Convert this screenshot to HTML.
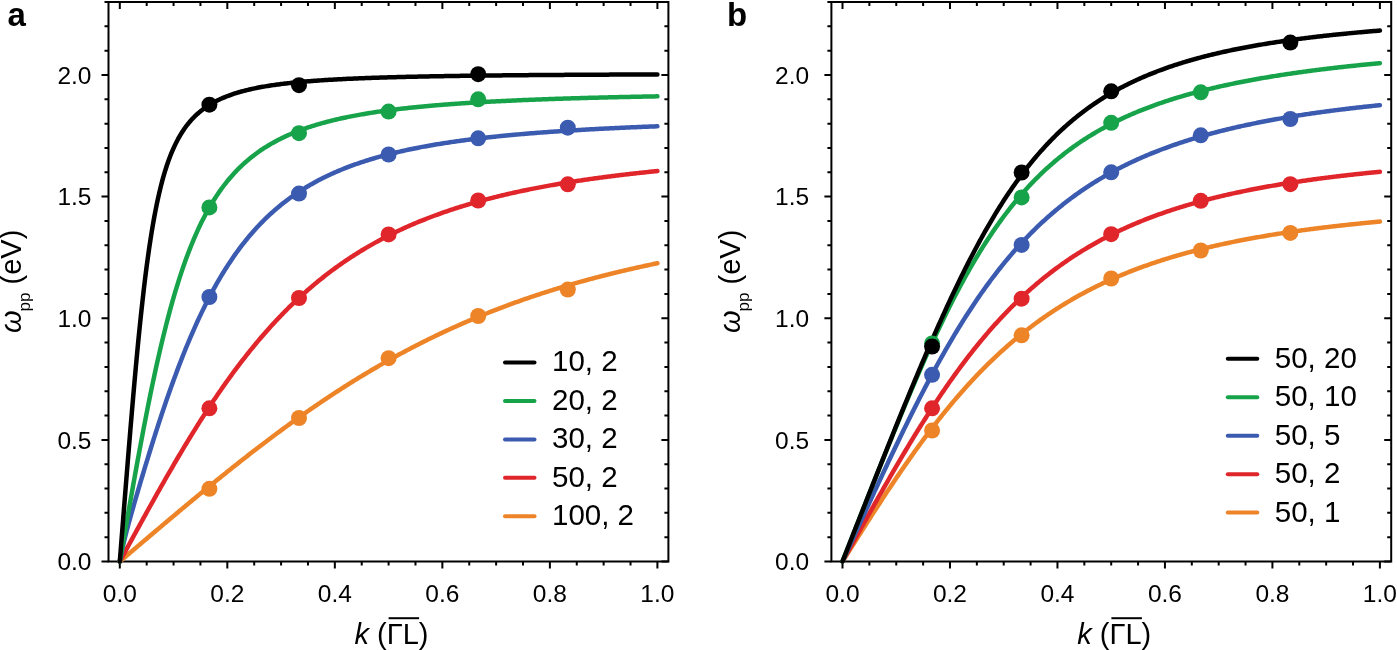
<!DOCTYPE html><html><head><meta charset="utf-8"><style>html,body{margin:0;padding:0;background:#fff;}svg{display:block}</style></head><body>
<svg width="1397" height="650" viewBox="0 0 1397 650" style="will-change:transform">
<rect width="1397" height="650" fill="#fff"/>
<path d="M119.8 561.5v7 M119.8 2v7 M146.68 561.5v4 M146.68 2v4 M173.56 561.5v4 M173.56 2v4 M200.44 561.5v4 M200.44 2v4 M227.32 561.5v7 M227.32 2v7 M254.2 561.5v4 M254.2 2v4 M281.08 561.5v4 M281.08 2v4 M307.96 561.5v4 M307.96 2v4 M334.84 561.5v7 M334.84 2v7 M361.72 561.5v4 M361.72 2v4 M388.6 561.5v4 M388.6 2v4 M415.48 561.5v4 M415.48 2v4 M442.36 561.5v7 M442.36 2v7 M469.24 561.5v4 M469.24 2v4 M496.12 561.5v4 M496.12 2v4 M523 561.5v4 M523 2v4 M549.88 561.5v7 M549.88 2v7 M576.76 561.5v4 M576.76 2v4 M603.64 561.5v4 M603.64 2v4 M630.52 561.5v4 M630.52 2v4 M657.4 561.5v7 M657.4 2v7 M108.5 561.5h-7 M668.4 561.5h-7 M108.5 537.17h-4 M668.4 537.17h-4 M108.5 512.85h-4 M668.4 512.85h-4 M108.5 488.52h-4 M668.4 488.52h-4 M108.5 464.2h-4 M668.4 464.2h-4 M108.5 439.88h-7 M668.4 439.88h-7 M108.5 415.55h-4 M668.4 415.55h-4 M108.5 391.23h-4 M668.4 391.23h-4 M108.5 366.9h-4 M668.4 366.9h-4 M108.5 342.57h-4 M668.4 342.57h-4 M108.5 318.25h-7 M668.4 318.25h-7 M108.5 293.92h-4 M668.4 293.92h-4 M108.5 269.6h-4 M668.4 269.6h-4 M108.5 245.27h-4 M668.4 245.27h-4 M108.5 220.95h-4 M668.4 220.95h-4 M108.5 196.62h-7 M668.4 196.62h-7 M108.5 172.3h-4 M668.4 172.3h-4 M108.5 147.97h-4 M668.4 147.97h-4 M108.5 123.65h-4 M668.4 123.65h-4 M108.5 99.32h-4 M668.4 99.32h-4 M108.5 75h-7 M668.4 75h-7 M108.5 50.67h-4 M668.4 50.67h-4 M108.5 26.35h-4 M668.4 26.35h-4 M108.5 2.02h-4 M668.4 2.02h-4" stroke="#000" stroke-width="2" fill="none"/>
<rect x="108.5" y="2" width="559.9" height="559.5" stroke="#000" stroke-width="2" fill="none"/>
<polyline points="119.8,561.5 120.07,561.27 120.34,561.04 120.61,560.81 120.88,560.59 121.14,560.36 121.41,560.13 121.68,559.9 121.95,559.67 122.22,559.44 122.49,559.21 122.76,558.99 123.03,558.76 123.29,558.53 123.56,558.3 123.83,558.07 124.1,557.84 124.37,557.61 124.64,557.39 124.91,557.16 125.18,556.93 125.44,556.7 125.71,556.47 125.98,556.24 126.25,556.02 126.52,555.79 126.79,555.56 127.06,555.33 127.33,555.1 127.6,554.87 127.86,554.64 128.13,554.42 128.4,554.19 128.67,553.96 128.94,553.73 129.21,553.5 129.48,553.27 129.75,553.04 130.01,552.82 130.28,552.59 130.55,552.36 131.87,551.24 133.19,550.11 134.51,548.99 135.83,547.87 137.15,546.75 138.47,545.63 139.79,544.51 141.12,543.39 142.44,542.27 143.76,541.15 145.08,540.03 146.4,538.91 147.72,537.79 149.04,536.67 150.36,535.55 151.68,534.43 153,533.31 154.32,532.2 155.64,531.08 156.96,529.96 158.28,528.85 159.6,527.73 160.92,526.62 162.24,525.5 163.56,524.39 164.88,523.28 166.2,522.16 167.52,521.05 168.84,519.94 170.16,518.83 171.49,517.72 172.81,516.61 174.13,515.5 175.45,514.4 176.77,513.29 178.09,512.18 179.41,511.08 180.73,509.97 182.05,508.87 183.37,507.77 184.69,506.67 186.01,505.57 187.33,504.47 188.65,503.37 189.97,502.27 191.29,501.18 192.61,500.08 193.93,498.99 195.25,497.9 196.57,496.81 197.89,495.71 199.21,494.63 200.53,493.54 201.85,492.45 203.18,491.37 204.5,490.28 205.82,489.2 207.14,488.12 208.46,487.04 209.78,485.96 211.1,484.88 212.42,483.8 213.74,482.73 215.06,481.66 216.38,480.59 217.7,479.52 219.02,478.45 220.34,477.38 221.66,476.32 222.98,475.25 224.3,474.19 225.62,473.13 226.94,472.07 228.26,471.01 229.58,469.96 230.9,468.9 232.22,467.85 233.54,466.8 234.87,465.75 236.19,464.71 237.51,463.66 238.83,462.62 240.15,461.58 241.47,460.54 242.79,459.5 244.11,458.47 245.43,457.44 246.75,456.4 248.07,455.38 249.39,454.35 250.71,453.32 252.03,452.3 253.35,451.28 254.67,450.26 255.99,449.24 257.31,448.23 258.63,447.22 259.95,446.21 261.27,445.2 262.59,444.19 263.91,443.19 265.23,442.19 266.56,441.19 267.88,440.19 269.2,439.2 270.52,438.21 271.84,437.22 273.16,436.23 274.48,435.24 275.8,434.26 277.12,433.28 278.44,432.3 279.76,431.33 281.08,430.35 282.4,429.38 283.72,428.41 285.04,427.45 286.36,426.48 287.68,425.52 289,424.57 290.32,423.61 291.64,422.66 292.96,421.71 294.28,420.76 295.6,419.81 296.93,418.87 298.25,417.93 299.57,416.99 300.89,416.06 302.21,415.13 303.53,414.2 304.85,413.27 306.17,412.35 307.49,411.42 308.81,410.51 310.13,409.59 311.45,408.68 312.77,407.77 314.09,406.86 315.41,405.95 316.73,405.05 318.05,404.15 319.37,403.25 320.69,402.36 322.01,401.47 323.33,400.58 324.65,399.7 325.97,398.81 327.29,397.93 328.62,397.06 329.94,396.18 331.26,395.31 332.58,394.45 333.9,393.58 335.22,392.72 336.54,391.86 337.86,391 339.18,390.15 340.5,389.3 341.82,388.45 343.14,387.61 344.46,386.76 345.78,385.92 347.1,385.09 348.42,384.26 349.74,383.43 351.06,382.6 352.38,381.77 353.7,380.95 355.02,380.14 356.34,379.32 357.66,378.51 358.98,377.7 360.31,376.89 361.63,376.09 362.95,375.29 364.27,374.49 365.59,373.7 366.91,372.91 368.23,372.12 369.55,371.33 370.87,370.55 372.19,369.77 373.51,369 374.83,368.22 376.15,367.45 377.47,366.69 378.79,365.92 380.11,365.16 381.43,364.4 382.75,363.65 384.07,362.89 385.39,362.15 386.71,361.4 388.03,360.66 389.35,359.92 390.67,359.18 392,358.45 393.32,357.71 394.64,356.99 395.96,356.26 397.28,355.54 398.6,354.82 399.92,354.1 401.24,353.39 402.56,352.68 403.88,351.97 405.2,351.27 406.52,350.57 407.84,349.87 409.16,349.18 410.48,348.48 411.8,347.8 413.12,347.11 414.44,346.43 415.76,345.75 417.08,345.07 418.4,344.39 419.72,343.72 421.04,343.05 422.37,342.39 423.69,341.73 425.01,341.07 426.33,340.41 427.65,339.76 428.97,339.1 430.29,338.46 431.61,337.81 432.93,337.17 434.25,336.53 435.57,335.89 436.89,335.26 438.21,334.63 439.53,334 440.85,333.38 442.17,332.75 443.49,332.13 444.81,331.52 446.13,330.9 447.45,330.29 448.77,329.69 450.09,329.08 451.41,328.48 452.73,327.88 454.06,327.28 455.38,326.69 456.7,326.1 458.02,325.51 459.34,324.92 460.66,324.34 461.98,323.76 463.3,323.18 464.62,322.61 465.94,322.04 467.26,321.47 468.58,320.9 469.9,320.34 471.22,319.78 472.54,319.22 473.86,318.66 475.18,318.11 476.5,317.56 477.82,317.01 479.14,316.46 480.46,315.92 481.78,315.38 483.1,314.85 484.42,314.31 485.75,313.78 487.07,313.25 488.39,312.72 489.71,312.2 491.03,311.68 492.35,311.16 493.67,310.64 494.99,310.13 496.31,309.61 497.63,309.11 498.95,308.6 500.27,308.09 501.59,307.59 502.91,307.09 504.23,306.6 505.55,306.1 506.87,305.61 508.19,305.12 509.51,304.64 510.83,304.15 512.15,303.67 513.47,303.19 514.79,302.71 516.11,302.24 517.44,301.77 518.76,301.3 520.08,300.83 521.4,300.36 522.72,299.9 524.04,299.44 525.36,298.98 526.68,298.52 528,298.07 529.32,297.62 530.64,297.17 531.96,296.72 533.28,296.28 534.6,295.84 535.92,295.4 537.24,294.96 538.56,294.52 539.88,294.09 541.2,293.66 542.52,293.23 543.84,292.8 545.16,292.38 546.48,291.95 547.81,291.53 549.13,291.12 550.45,290.7 551.77,290.29 553.09,289.87 554.41,289.46 555.73,289.06 557.05,288.65 558.37,288.25 559.69,287.85 561.01,287.45 562.33,287.05 563.65,286.65 564.97,286.26 566.29,285.87 567.61,285.48 568.93,285.09 570.25,284.71 571.57,284.33 572.89,283.94 574.21,283.57 575.53,283.19 576.85,282.81 578.17,282.44 579.5,282.07 580.82,281.7 582.14,281.33 583.46,280.97 584.78,280.6 586.1,280.24 587.42,279.88 588.74,279.52 590.06,279.16 591.38,278.81 592.7,278.46 594.02,278.11 595.34,277.76 596.66,277.41 597.98,277.06 599.3,276.72 600.62,276.38 601.94,276.04 603.26,275.7 604.58,275.36 605.9,275.03 607.22,274.7 608.54,274.37 609.86,274.04 611.19,273.71 612.51,273.38 613.83,273.06 615.15,272.73 616.47,272.41 617.79,272.09 619.11,271.78 620.43,271.46 621.75,271.14 623.07,270.83 624.39,270.52 625.71,270.21 627.03,269.9 628.35,269.6 629.67,269.29 630.99,268.99 632.31,268.69 633.63,268.39 634.95,268.09 636.27,267.79 637.59,267.49 638.91,267.2 640.23,266.91 641.55,266.62 642.88,266.33 644.2,266.04 645.52,265.75 646.84,265.47 648.16,265.18 649.48,264.9 650.8,264.62 652.12,264.34 653.44,264.06 654.76,263.79 656.08,263.51 657.4,263.24" fill="none" stroke="#ee8428" stroke-width="4.5" stroke-linecap="round" stroke-linejoin="round"/>
<polyline points="119.8,561.5 120.07,561.01 120.34,560.51 120.61,560.02 120.88,559.53 121.14,559.03 121.41,558.54 121.68,558.05 121.95,557.55 122.22,557.06 122.49,556.56 122.76,556.07 123.03,555.58 123.29,555.08 123.56,554.59 123.83,554.1 124.1,553.6 124.37,553.11 124.64,552.62 124.91,552.12 125.18,551.63 125.44,551.14 125.71,550.64 125.98,550.15 126.25,549.66 126.52,549.17 126.79,548.67 127.06,548.18 127.33,547.69 127.6,547.19 127.86,546.7 128.13,546.21 128.4,545.71 128.67,545.22 128.94,544.73 129.21,544.24 129.48,543.74 129.75,543.25 130.01,542.76 130.28,542.27 130.55,541.77 131.87,539.36 133.19,536.94 134.51,534.53 135.83,532.11 137.15,529.7 138.47,527.3 139.79,524.89 141.12,522.49 142.44,520.09 143.76,517.7 145.08,515.31 146.4,512.92 147.72,510.53 149.04,508.15 150.36,505.78 151.68,503.41 153,501.04 154.32,498.68 155.64,496.32 156.96,493.97 158.28,491.63 159.6,489.29 160.92,486.96 162.24,484.63 163.56,482.31 164.88,479.99 166.2,477.69 167.52,475.39 168.84,473.09 170.16,470.81 171.49,468.53 172.81,466.26 174.13,463.99 175.45,461.74 176.77,459.49 178.09,457.25 179.41,455.02 180.73,452.79 182.05,450.58 183.37,448.37 184.69,446.18 186.01,443.99 187.33,441.81 188.65,439.64 189.97,437.49 191.29,435.34 192.61,433.2 193.93,431.07 195.25,428.95 196.57,426.84 197.89,424.74 199.21,422.65 200.53,420.57 201.85,418.5 203.18,416.44 204.5,414.4 205.82,412.36 207.14,410.33 208.46,408.32 209.78,406.32 211.1,404.32 212.42,402.34 213.74,400.37 215.06,398.41 216.38,396.47 217.7,394.53 219.02,392.6 220.34,390.69 221.66,388.79 222.98,386.9 224.3,385.02 225.62,383.16 226.94,381.3 228.26,379.46 229.58,377.63 230.9,375.81 232.22,374 233.54,372.21 234.87,370.42 236.19,368.65 237.51,366.89 238.83,365.14 240.15,363.41 241.47,361.68 242.79,359.97 244.11,358.27 245.43,356.58 246.75,354.91 248.07,353.24 249.39,351.59 250.71,349.95 252.03,348.32 253.35,346.71 254.67,345.1 255.99,343.51 257.31,341.93 258.63,340.36 259.95,338.8 261.27,337.26 262.59,335.72 263.91,334.2 265.23,332.69 266.56,331.19 267.88,329.71 269.2,328.23 270.52,326.77 271.84,325.32 273.16,323.88 274.48,322.45 275.8,321.03 277.12,319.62 278.44,318.23 279.76,316.84 281.08,315.47 282.4,314.11 283.72,312.76 285.04,311.42 286.36,310.09 287.68,308.77 289,307.47 290.32,306.17 291.64,304.89 292.96,303.61 294.28,302.35 295.6,301.09 296.93,299.85 298.25,298.62 299.57,297.4 300.89,296.19 302.21,294.99 303.53,293.8 304.85,292.62 306.17,291.45 307.49,290.28 308.81,289.13 310.13,287.99 311.45,286.86 312.77,285.74 314.09,284.63 315.41,283.53 316.73,282.44 318.05,281.36 319.37,280.28 320.69,279.22 322.01,278.17 323.33,277.12 324.65,276.09 325.97,275.06 327.29,274.04 328.62,273.03 329.94,272.03 331.26,271.04 332.58,270.06 333.9,269.09 335.22,268.12 336.54,267.17 337.86,266.22 339.18,265.28 340.5,264.35 341.82,263.43 343.14,262.51 344.46,261.61 345.78,260.71 347.1,259.82 348.42,258.94 349.74,258.06 351.06,257.2 352.38,256.34 353.7,255.49 355.02,254.64 356.34,253.81 357.66,252.98 358.98,252.16 360.31,251.35 361.63,250.54 362.95,249.74 364.27,248.95 365.59,248.17 366.91,247.39 368.23,246.62 369.55,245.86 370.87,245.1 372.19,244.35 373.51,243.61 374.83,242.87 376.15,242.14 377.47,241.42 378.79,240.7 380.11,239.99 381.43,239.29 382.75,238.59 384.07,237.9 385.39,237.21 386.71,236.54 388.03,235.86 389.35,235.2 390.67,234.54 392,233.88 393.32,233.23 394.64,232.59 395.96,231.95 397.28,231.32 398.6,230.7 399.92,230.08 401.24,229.46 402.56,228.85 403.88,228.25 405.2,227.65 406.52,227.06 407.84,226.47 409.16,225.89 410.48,225.31 411.8,224.74 413.12,224.17 414.44,223.61 415.76,223.05 417.08,222.5 418.4,221.95 419.72,221.41 421.04,220.87 422.37,220.34 423.69,219.81 425.01,219.29 426.33,218.77 427.65,218.25 428.97,217.74 430.29,217.24 431.61,216.74 432.93,216.24 434.25,215.75 435.57,215.26 436.89,214.78 438.21,214.3 439.53,213.82 440.85,213.35 442.17,212.89 443.49,212.42 444.81,211.96 446.13,211.51 447.45,211.06 448.77,210.61 450.09,210.17 451.41,209.73 452.73,209.29 454.06,208.86 455.38,208.44 456.7,208.01 458.02,207.59 459.34,207.17 460.66,206.76 461.98,206.35 463.3,205.94 464.62,205.54 465.94,205.14 467.26,204.75 468.58,204.35 469.9,203.96 471.22,203.58 472.54,203.19 473.86,202.81 475.18,202.44 476.5,202.06 477.82,201.69 479.14,201.33 480.46,200.96 481.78,200.6 483.1,200.25 484.42,199.89 485.75,199.54 487.07,199.19 488.39,198.84 489.71,198.5 491.03,198.16 492.35,197.82 493.67,197.49 494.99,197.16 496.31,196.83 497.63,196.5 498.95,196.18 500.27,195.86 501.59,195.54 502.91,195.22 504.23,194.91 505.55,194.6 506.87,194.29 508.19,193.98 509.51,193.68 510.83,193.38 512.15,193.08 513.47,192.79 514.79,192.49 516.11,192.2 517.44,191.91 518.76,191.63 520.08,191.34 521.4,191.06 522.72,190.78 524.04,190.5 525.36,190.23 526.68,189.96 528,189.69 529.32,189.42 530.64,189.15 531.96,188.89 533.28,188.62 534.6,188.36 535.92,188.11 537.24,187.85 538.56,187.6 539.88,187.34 541.2,187.09 542.52,186.85 543.84,186.6 545.16,186.36 546.48,186.11 547.81,185.87 549.13,185.63 550.45,185.4 551.77,185.16 553.09,184.93 554.41,184.7 555.73,184.47 557.05,184.24 558.37,184.01 559.69,183.79 561.01,183.57 562.33,183.35 563.65,183.13 564.97,182.91 566.29,182.69 567.61,182.48 568.93,182.27 570.25,182.06 571.57,181.85 572.89,181.64 574.21,181.43 575.53,181.23 576.85,181.02 578.17,180.82 579.5,180.62 580.82,180.42 582.14,180.23 583.46,180.03 584.78,179.84 586.1,179.64 587.42,179.45 588.74,179.26 590.06,179.07 591.38,178.89 592.7,178.7 594.02,178.52 595.34,178.33 596.66,178.15 597.98,177.97 599.3,177.79 600.62,177.61 601.94,177.44 603.26,177.26 604.58,177.09 605.9,176.91 607.22,176.74 608.54,176.57 609.86,176.4 611.19,176.24 612.51,176.07 613.83,175.9 615.15,175.74 616.47,175.58 617.79,175.41 619.11,175.25 620.43,175.09 621.75,174.93 623.07,174.78 624.39,174.62 625.71,174.47 627.03,174.31 628.35,174.16 629.67,174.01 630.99,173.86 632.31,173.71 633.63,173.56 634.95,173.41 636.27,173.26 637.59,173.12 638.91,172.97 640.23,172.83 641.55,172.69 642.88,172.54 644.2,172.4 645.52,172.26 646.84,172.12 648.16,171.99 649.48,171.85 650.8,171.71 652.12,171.58 653.44,171.44 654.76,171.31 656.08,171.18 657.4,171.05" fill="none" stroke="#e0262b" stroke-width="4.5" stroke-linecap="round" stroke-linejoin="round"/>
<polyline points="119.8,561.5 120.07,560.14 120.34,558.78 120.61,557.43 120.88,556.09 121.14,554.76 121.41,553.44 121.68,552.14 121.95,550.86 122.22,549.59 122.49,548.34 122.76,547.11 123.03,545.9 123.29,544.71 123.56,543.53 123.83,542.38 124.1,541.23 124.37,540.1 124.64,538.99 124.91,537.89 125.18,536.8 125.44,535.73 125.71,534.66 125.98,533.61 126.25,532.56 126.52,531.52 126.79,530.49 127.06,529.47 127.33,528.46 127.6,527.45 127.86,526.45 128.13,525.45 128.4,524.45 128.67,523.47 128.94,522.48 129.21,521.5 129.48,520.53 129.75,519.55 130.01,518.59 130.28,517.62 130.55,516.66 131.87,511.96 133.19,507.32 134.51,502.72 135.83,498.15 137.15,493.61 138.47,489.1 139.79,484.62 141.12,480.17 142.44,475.74 143.76,471.33 145.08,466.96 146.4,462.61 147.72,458.29 149.04,453.99 150.36,449.73 151.68,445.5 153,441.29 154.32,437.12 155.64,432.98 156.96,428.87 158.28,424.8 159.6,420.76 160.92,416.75 162.24,412.78 163.56,408.85 164.88,404.95 166.2,401.1 167.52,397.27 168.84,393.49 170.16,389.75 171.49,386.04 172.81,382.38 174.13,378.75 175.45,375.17 176.77,371.63 178.09,368.12 179.41,364.66 180.73,361.24 182.05,357.86 183.37,354.52 184.69,351.22 186.01,347.97 187.33,344.75 188.65,341.58 189.97,338.45 191.29,335.35 192.61,332.31 193.93,329.3 195.25,326.33 196.57,323.4 197.89,320.52 199.21,317.67 200.53,314.86 201.85,312.1 203.18,309.37 204.5,306.69 205.82,304.04 207.14,301.43 208.46,298.86 209.78,296.32 211.1,293.83 212.42,291.37 213.74,288.95 215.06,286.57 216.38,284.22 217.7,281.9 219.02,279.63 220.34,277.39 221.66,275.18 222.98,273 224.3,270.87 225.62,268.76 226.94,266.69 228.26,264.64 229.58,262.64 230.9,260.66 232.22,258.71 233.54,256.8 234.87,254.91 236.19,253.06 237.51,251.23 238.83,249.43 240.15,247.67 241.47,245.93 242.79,244.21 244.11,242.53 245.43,240.87 246.75,239.24 248.07,237.63 249.39,236.05 250.71,234.5 252.03,232.97 253.35,231.46 254.67,229.98 255.99,228.53 257.31,227.09 258.63,225.68 259.95,224.29 261.27,222.92 262.59,221.58 263.91,220.26 265.23,218.95 266.56,217.67 267.88,216.41 269.2,215.17 270.52,213.94 271.84,212.74 273.16,211.56 274.48,210.39 275.8,209.25 277.12,208.12 278.44,207.01 279.76,205.91 281.08,204.84 282.4,203.78 283.72,202.73 285.04,201.71 286.36,200.69 287.68,199.7 289,198.72 290.32,197.75 291.64,196.8 292.96,195.87 294.28,194.95 295.6,194.04 296.93,193.15 298.25,192.27 299.57,191.4 300.89,190.55 302.21,189.71 303.53,188.88 304.85,188.06 306.17,187.26 307.49,186.47 308.81,185.69 310.13,184.92 311.45,184.17 312.77,183.42 314.09,182.69 315.41,181.96 316.73,181.25 318.05,180.55 319.37,179.86 320.69,179.17 322.01,178.5 323.33,177.84 324.65,177.19 325.97,176.54 327.29,175.91 328.62,175.28 329.94,174.67 331.26,174.06 332.58,173.46 333.9,172.87 335.22,172.29 336.54,171.72 337.86,171.15 339.18,170.59 340.5,170.04 341.82,169.5 343.14,168.96 344.46,168.44 345.78,167.92 347.1,167.4 348.42,166.9 349.74,166.4 351.06,165.91 352.38,165.42 353.7,164.94 355.02,164.47 356.34,164 357.66,163.54 358.98,163.09 360.31,162.64 361.63,162.2 362.95,161.76 364.27,161.33 365.59,160.91 366.91,160.49 368.23,160.07 369.55,159.67 370.87,159.26 372.19,158.86 373.51,158.47 374.83,158.08 376.15,157.7 377.47,157.32 378.79,156.95 380.11,156.58 381.43,156.22 382.75,155.86 384.07,155.51 385.39,155.16 386.71,154.81 388.03,154.47 389.35,154.13 390.67,153.8 392,153.47 393.32,153.15 394.64,152.83 395.96,152.51 397.28,152.2 398.6,151.89 399.92,151.58 401.24,151.28 402.56,150.98 403.88,150.69 405.2,150.4 406.52,150.11 407.84,149.82 409.16,149.54 410.48,149.27 411.8,148.99 413.12,148.72 414.44,148.45 415.76,148.19 417.08,147.93 418.4,147.67 419.72,147.41 421.04,147.16 422.37,146.91 423.69,146.66 425.01,146.42 426.33,146.18 427.65,145.94 428.97,145.7 430.29,145.47 431.61,145.24 432.93,145.01 434.25,144.79 435.57,144.57 436.89,144.34 438.21,144.13 439.53,143.91 440.85,143.7 442.17,143.49 443.49,143.28 444.81,143.07 446.13,142.87 447.45,142.67 448.77,142.47 450.09,142.27 451.41,142.07 452.73,141.88 454.06,141.69 455.38,141.5 456.7,141.31 458.02,141.13 459.34,140.95 460.66,140.76 461.98,140.59 463.3,140.41 464.62,140.23 465.94,140.06 467.26,139.89 468.58,139.72 469.9,139.55 471.22,139.38 472.54,139.22 473.86,139.05 475.18,138.89 476.5,138.73 477.82,138.57 479.14,138.42 480.46,138.26 481.78,138.11 483.1,137.96 484.42,137.81 485.75,137.66 487.07,137.51 488.39,137.36 489.71,137.22 491.03,137.07 492.35,136.93 493.67,136.79 494.99,136.65 496.31,136.52 497.63,136.38 498.95,136.24 500.27,136.11 501.59,135.98 502.91,135.85 504.23,135.72 505.55,135.59 506.87,135.46 508.19,135.33 509.51,135.21 510.83,135.08 512.15,134.96 513.47,134.84 514.79,134.72 516.11,134.6 517.44,134.48 518.76,134.37 520.08,134.25 521.4,134.13 522.72,134.02 524.04,133.91 525.36,133.8 526.68,133.69 528,133.58 529.32,133.47 530.64,133.36 531.96,133.25 533.28,133.15 534.6,133.04 535.92,132.94 537.24,132.83 538.56,132.73 539.88,132.63 541.2,132.53 542.52,132.43 543.84,132.33 545.16,132.23 546.48,132.14 547.81,132.04 549.13,131.95 550.45,131.85 551.77,131.76 553.09,131.67 554.41,131.57 555.73,131.48 557.05,131.39 558.37,131.3 559.69,131.22 561.01,131.13 562.33,131.04 563.65,130.95 564.97,130.87 566.29,130.78 567.61,130.7 568.93,130.61 570.25,130.53 571.57,130.45 572.89,130.37 574.21,130.29 575.53,130.21 576.85,130.13 578.17,130.05 579.5,129.97 580.82,129.89 582.14,129.82 583.46,129.74 584.78,129.66 586.1,129.59 587.42,129.51 588.74,129.44 590.06,129.37 591.38,129.29 592.7,129.22 594.02,129.15 595.34,129.08 596.66,129.01 597.98,128.94 599.3,128.87 600.62,128.8 601.94,128.73 603.26,128.67 604.58,128.6 605.9,128.53 607.22,128.47 608.54,128.4 609.86,128.34 611.19,128.27 612.51,128.21 613.83,128.14 615.15,128.08 616.47,128.02 617.79,127.96 619.11,127.89 620.43,127.83 621.75,127.77 623.07,127.71 624.39,127.65 625.71,127.59 627.03,127.53 628.35,127.48 629.67,127.42 630.99,127.36 632.31,127.3 633.63,127.25 634.95,127.19 636.27,127.14 637.59,127.08 638.91,127.02 640.23,126.97 641.55,126.92 642.88,126.86 644.2,126.81 645.52,126.76 646.84,126.7 648.16,126.65 649.48,126.6 650.8,126.55 652.12,126.5 653.44,126.45 654.76,126.4 656.08,126.35 657.4,126.3" fill="none" stroke="#3b5bb0" stroke-width="4.5" stroke-linecap="round" stroke-linejoin="round"/>
<polyline points="119.8,561.5 120.07,559.96 120.34,558.41 120.61,556.87 120.88,555.32 121.14,553.78 121.41,552.23 121.68,550.69 121.95,549.15 122.22,547.6 122.49,546.06 122.76,544.51 123.03,542.97 123.29,541.43 123.56,539.89 123.83,538.34 124.1,536.8 124.37,535.26 124.64,533.72 124.91,532.18 125.18,530.64 125.44,529.1 125.71,527.56 125.98,526.03 126.25,524.49 126.52,522.95 126.79,521.42 127.06,519.89 127.33,518.35 127.6,516.82 127.86,515.29 128.13,513.76 128.4,512.23 128.67,510.7 128.94,509.17 129.21,507.65 129.48,506.12 129.75,504.6 130.01,503.07 130.28,501.55 130.55,500.03 131.87,492.59 133.19,485.18 134.51,477.82 135.83,470.51 137.15,463.25 138.47,456.05 139.79,448.91 141.12,441.84 142.44,434.84 143.76,427.91 145.08,421.07 146.4,414.31 147.72,407.63 149.04,401.05 150.36,394.56 151.68,388.16 153,381.87 154.32,375.67 155.64,369.58 156.96,363.59 158.28,357.71 159.6,351.94 160.92,346.27 162.24,340.72 163.56,335.27 164.88,329.93 166.2,324.71 167.52,319.59 168.84,314.58 170.16,309.68 171.49,304.9 172.81,300.21 174.13,295.64 175.45,291.17 176.77,286.81 178.09,282.54 179.41,278.39 180.73,274.33 182.05,270.37 183.37,266.5 184.69,262.74 186.01,259.06 187.33,255.48 188.65,251.99 189.97,248.58 191.29,245.27 192.61,242.03 193.93,238.88 195.25,235.81 196.57,232.82 197.89,229.9 199.21,227.06 200.53,224.3 201.85,221.6 203.18,218.97 204.5,216.41 205.82,213.92 207.14,211.49 208.46,209.12 209.78,206.82 211.1,204.57 212.42,202.38 213.74,200.25 215.06,198.17 216.38,196.14 217.7,194.16 219.02,192.24 220.34,190.36 221.66,188.53 222.98,186.74 224.3,185 225.62,183.3 226.94,181.65 228.26,180.03 229.58,178.45 230.9,176.92 232.22,175.42 233.54,173.95 234.87,172.52 236.19,171.13 237.51,169.76 238.83,168.44 240.15,167.14 241.47,165.87 242.79,164.63 244.11,163.42 245.43,162.24 246.75,161.08 248.07,159.96 249.39,158.85 250.71,157.78 252.03,156.72 253.35,155.69 254.67,154.68 255.99,153.7 257.31,152.74 258.63,151.79 259.95,150.87 261.27,149.97 262.59,149.09 263.91,148.22 265.23,147.38 266.56,146.55 267.88,145.74 269.2,144.95 270.52,144.17 271.84,143.41 273.16,142.67 274.48,141.94 275.8,141.22 277.12,140.52 278.44,139.83 279.76,139.16 281.08,138.5 282.4,137.86 283.72,137.22 285.04,136.6 286.36,135.99 287.68,135.4 289,134.81 290.32,134.23 291.64,133.67 292.96,133.12 294.28,132.57 295.6,132.04 296.93,131.52 298.25,131.01 299.57,130.5 300.89,130.01 302.21,129.52 303.53,129.05 304.85,128.58 306.17,128.12 307.49,127.67 308.81,127.22 310.13,126.79 311.45,126.36 312.77,125.94 314.09,125.52 315.41,125.12 316.73,124.72 318.05,124.33 319.37,123.94 320.69,123.56 322.01,123.19 323.33,122.82 324.65,122.46 325.97,122.11 327.29,121.76 328.62,121.42 329.94,121.08 331.26,120.75 332.58,120.42 333.9,120.1 335.22,119.78 336.54,119.47 337.86,119.16 339.18,118.86 340.5,118.57 341.82,118.27 343.14,117.99 344.46,117.7 345.78,117.43 347.1,117.15 348.42,116.88 349.74,116.61 351.06,116.35 352.38,116.09 353.7,115.84 355.02,115.59 356.34,115.34 357.66,115.1 358.98,114.86 360.31,114.62 361.63,114.39 362.95,114.16 364.27,113.94 365.59,113.71 366.91,113.49 368.23,113.28 369.55,113.06 370.87,112.85 372.19,112.65 373.51,112.44 374.83,112.24 376.15,112.04 377.47,111.85 378.79,111.65 380.11,111.46 381.43,111.27 382.75,111.09 384.07,110.91 385.39,110.73 386.71,110.55 388.03,110.37 389.35,110.2 390.67,110.03 392,109.86 393.32,109.69 394.64,109.53 395.96,109.37 397.28,109.2 398.6,109.05 399.92,108.89 401.24,108.74 402.56,108.58 403.88,108.43 405.2,108.29 406.52,108.14 407.84,108 409.16,107.85 410.48,107.71 411.8,107.57 413.12,107.44 414.44,107.3 415.76,107.17 417.08,107.03 418.4,106.9 419.72,106.77 421.04,106.65 422.37,106.52 423.69,106.4 425.01,106.27 426.33,106.15 427.65,106.03 428.97,105.91 430.29,105.8 431.61,105.68 432.93,105.56 434.25,105.45 435.57,105.34 436.89,105.23 438.21,105.12 439.53,105.01 440.85,104.91 442.17,104.8 443.49,104.7 444.81,104.59 446.13,104.49 447.45,104.39 448.77,104.29 450.09,104.19 451.41,104.09 452.73,104 454.06,103.9 455.38,103.81 456.7,103.71 458.02,103.62 459.34,103.53 460.66,103.44 461.98,103.35 463.3,103.26 464.62,103.18 465.94,103.09 467.26,103 468.58,102.92 469.9,102.84 471.22,102.75 472.54,102.67 473.86,102.59 475.18,102.51 476.5,102.43 477.82,102.35 479.14,102.28 480.46,102.2 481.78,102.12 483.1,102.05 484.42,101.97 485.75,101.9 487.07,101.83 488.39,101.75 489.71,101.68 491.03,101.61 492.35,101.54 493.67,101.47 494.99,101.4 496.31,101.34 497.63,101.27 498.95,101.2 500.27,101.14 501.59,101.07 502.91,101.01 504.23,100.94 505.55,100.88 506.87,100.82 508.19,100.75 509.51,100.69 510.83,100.63 512.15,100.57 513.47,100.51 514.79,100.45 516.11,100.39 517.44,100.34 518.76,100.28 520.08,100.22 521.4,100.16 522.72,100.11 524.04,100.05 525.36,100 526.68,99.94 528,99.89 529.32,99.84 530.64,99.78 531.96,99.73 533.28,99.68 534.6,99.63 535.92,99.58 537.24,99.53 538.56,99.48 539.88,99.43 541.2,99.38 542.52,99.33 543.84,99.28 545.16,99.23 546.48,99.19 547.81,99.14 549.13,99.09 550.45,99.05 551.77,99 553.09,98.96 554.41,98.91 555.73,98.87 557.05,98.82 558.37,98.78 559.69,98.74 561.01,98.69 562.33,98.65 563.65,98.61 564.97,98.57 566.29,98.53 567.61,98.48 568.93,98.44 570.25,98.4 571.57,98.36 572.89,98.32 574.21,98.28 575.53,98.25 576.85,98.21 578.17,98.17 579.5,98.13 580.82,98.09 582.14,98.06 583.46,98.02 584.78,97.98 586.1,97.94 587.42,97.91 588.74,97.87 590.06,97.84 591.38,97.8 592.7,97.77 594.02,97.73 595.34,97.7 596.66,97.66 597.98,97.63 599.3,97.6 600.62,97.56 601.94,97.53 603.26,97.5 604.58,97.46 605.9,97.43 607.22,97.4 608.54,97.37 609.86,97.34 611.19,97.31 612.51,97.27 613.83,97.24 615.15,97.21 616.47,97.18 617.79,97.15 619.11,97.12 620.43,97.09 621.75,97.06 623.07,97.03 624.39,97.01 625.71,96.98 627.03,96.95 628.35,96.92 629.67,96.89 630.99,96.86 632.31,96.84 633.63,96.81 634.95,96.78 636.27,96.75 637.59,96.73 638.91,96.7 640.23,96.67 641.55,96.65 642.88,96.62 644.2,96.6 645.52,96.57 646.84,96.55 648.16,96.52 649.48,96.5 650.8,96.47 652.12,96.45 653.44,96.42 654.76,96.4 656.08,96.37 657.4,96.35" fill="none" stroke="#17a34a" stroke-width="4.5" stroke-linecap="round" stroke-linejoin="round"/>
<polyline points="119.8,561.5 120.07,558.11 120.34,554.72 120.61,551.32 120.88,547.93 121.14,544.54 121.41,541.15 121.68,537.76 121.95,534.37 122.22,530.98 122.49,527.59 122.76,524.21 123.03,520.82 123.29,517.44 123.56,514.06 123.83,510.68 124.1,507.3 124.37,503.93 124.64,500.55 124.91,497.18 125.18,493.82 125.44,490.46 125.71,487.1 125.98,483.75 126.25,480.4 126.52,477.06 126.79,473.72 127.06,470.39 127.33,467.06 127.6,463.74 127.86,460.43 128.13,457.12 128.4,453.82 128.67,450.53 128.94,447.25 129.21,443.98 129.48,440.72 129.75,437.46 130.01,434.22 130.28,430.98 130.55,427.76 131.87,412.09 133.19,396.74 134.51,381.75 135.83,367.15 137.15,353 138.47,339.32 139.79,326.15 141.12,313.5 142.44,301.4 143.76,289.84 145.08,278.84 146.4,268.4 147.72,258.5 149.04,249.15 150.36,240.31 151.68,231.98 153,224.14 154.32,216.75 155.64,209.82 156.96,203.3 158.28,197.17 159.6,191.42 160.92,186.02 162.24,180.94 163.56,176.17 164.88,171.69 166.2,167.48 167.52,163.51 168.84,159.78 170.16,156.27 171.49,152.95 172.81,149.83 174.13,146.88 175.45,144.09 176.77,141.45 178.09,138.96 179.41,136.6 180.73,134.36 182.05,132.23 183.37,130.22 184.69,128.3 186.01,126.48 187.33,124.75 188.65,123.1 189.97,121.53 191.29,120.02 192.61,118.59 193.93,117.23 195.25,115.92 196.57,114.67 197.89,113.47 199.21,112.33 200.53,111.23 201.85,110.18 203.18,109.17 204.5,108.2 205.82,107.27 207.14,106.37 208.46,105.51 209.78,104.68 211.1,103.89 212.42,103.12 213.74,102.38 215.06,101.67 216.38,100.98 217.7,100.32 219.02,99.68 220.34,99.07 221.66,98.47 222.98,97.89 224.3,97.34 225.62,96.8 226.94,96.28 228.26,95.78 229.58,95.29 230.9,94.82 232.22,94.36 233.54,93.91 234.87,93.48 236.19,93.07 237.51,92.66 238.83,92.27 240.15,91.89 241.47,91.52 242.79,91.16 244.11,90.81 245.43,90.48 246.75,90.15 248.07,89.83 249.39,89.52 250.71,89.21 252.03,88.92 253.35,88.63 254.67,88.36 255.99,88.08 257.31,87.82 258.63,87.56 259.95,87.31 261.27,87.07 262.59,86.83 263.91,86.6 265.23,86.37 266.56,86.15 267.88,85.94 269.2,85.73 270.52,85.52 271.84,85.33 273.16,85.13 274.48,84.94 275.8,84.75 277.12,84.57 278.44,84.4 279.76,84.22 281.08,84.05 282.4,83.89 283.72,83.73 285.04,83.57 286.36,83.42 287.68,83.26 289,83.12 290.32,82.97 291.64,82.83 292.96,82.69 294.28,82.56 295.6,82.43 296.93,82.3 298.25,82.17 299.57,82.05 300.89,81.92 302.21,81.81 303.53,81.69 304.85,81.57 306.17,81.46 307.49,81.35 308.81,81.25 310.13,81.14 311.45,81.04 312.77,80.94 314.09,80.84 315.41,80.74 316.73,80.64 318.05,80.55 319.37,80.46 320.69,80.37 322.01,80.28 323.33,80.19 324.65,80.11 325.97,80.02 327.29,79.94 328.62,79.86 329.94,79.78 331.26,79.7 332.58,79.63 333.9,79.55 335.22,79.48 336.54,79.41 337.86,79.34 339.18,79.27 340.5,79.2 341.82,79.13 343.14,79.06 344.46,79 345.78,78.94 347.1,78.87 348.42,78.81 349.74,78.75 351.06,78.69 352.38,78.63 353.7,78.57 355.02,78.52 356.34,78.46 357.66,78.41 358.98,78.35 360.31,78.3 361.63,78.25 362.95,78.19 364.27,78.14 365.59,78.09 366.91,78.04 368.23,78 369.55,77.95 370.87,77.9 372.19,77.85 373.51,77.81 374.83,77.76 376.15,77.72 377.47,77.68 378.79,77.63 380.11,77.59 381.43,77.55 382.75,77.51 384.07,77.47 385.39,77.43 386.71,77.39 388.03,77.35 389.35,77.31 390.67,77.28 392,77.24 393.32,77.2 394.64,77.17 395.96,77.13 397.28,77.1 398.6,77.06 399.92,77.03 401.24,76.99 402.56,76.96 403.88,76.93 405.2,76.9 406.52,76.87 407.84,76.83 409.16,76.8 410.48,76.77 411.8,76.74 413.12,76.71 414.44,76.68 415.76,76.66 417.08,76.63 418.4,76.6 419.72,76.57 421.04,76.54 422.37,76.52 423.69,76.49 425.01,76.46 426.33,76.44 427.65,76.41 428.97,76.39 430.29,76.36 431.61,76.34 432.93,76.31 434.25,76.29 435.57,76.27 436.89,76.24 438.21,76.22 439.53,76.2 440.85,76.17 442.17,76.15 443.49,76.13 444.81,76.11 446.13,76.09 447.45,76.07 448.77,76.04 450.09,76.02 451.41,76 452.73,75.98 454.06,75.96 455.38,75.94 456.7,75.92 458.02,75.9 459.34,75.89 460.66,75.87 461.98,75.85 463.3,75.83 464.62,75.81 465.94,75.79 467.26,75.78 468.58,75.76 469.9,75.74 471.22,75.72 472.54,75.71 473.86,75.69 475.18,75.67 476.5,75.66 477.82,75.64 479.14,75.62 480.46,75.61 481.78,75.59 483.1,75.58 484.42,75.56 485.75,75.55 487.07,75.53 488.39,75.52 489.71,75.5 491.03,75.49 492.35,75.47 493.67,75.46 494.99,75.44 496.31,75.43 497.63,75.42 498.95,75.4 500.27,75.39 501.59,75.38 502.91,75.36 504.23,75.35 505.55,75.34 506.87,75.32 508.19,75.31 509.51,75.3 510.83,75.29 512.15,75.27 513.47,75.26 514.79,75.25 516.11,75.24 517.44,75.23 518.76,75.21 520.08,75.2 521.4,75.19 522.72,75.18 524.04,75.17 525.36,75.16 526.68,75.15 528,75.14 529.32,75.12 530.64,75.11 531.96,75.1 533.28,75.09 534.6,75.08 535.92,75.07 537.24,75.06 538.56,75.05 539.88,75.04 541.2,75.03 542.52,75.02 543.84,75.01 545.16,75 546.48,74.99 547.81,74.98 549.13,74.97 550.45,74.96 551.77,74.96 553.09,74.95 554.41,74.94 555.73,74.93 557.05,74.92 558.37,74.91 559.69,74.9 561.01,74.89 562.33,74.88 563.65,74.88 564.97,74.87 566.29,74.86 567.61,74.85 568.93,74.84 570.25,74.83 571.57,74.83 572.89,74.82 574.21,74.81 575.53,74.8 576.85,74.8 578.17,74.79 579.5,74.78 580.82,74.77 582.14,74.76 583.46,74.76 584.78,74.75 586.1,74.74 587.42,74.74 588.74,74.73 590.06,74.72 591.38,74.71 592.7,74.71 594.02,74.7 595.34,74.69 596.66,74.69 597.98,74.68 599.3,74.67 600.62,74.67 601.94,74.66 603.26,74.65 604.58,74.65 605.9,74.64 607.22,74.63 608.54,74.63 609.86,74.62 611.19,74.62 612.51,74.61 613.83,74.6 615.15,74.6 616.47,74.59 617.79,74.58 619.11,74.58 620.43,74.57 621.75,74.57 623.07,74.56 624.39,74.56 625.71,74.55 627.03,74.54 628.35,74.54 629.67,74.53 630.99,74.53 632.31,74.52 633.63,74.52 634.95,74.51 636.27,74.51 637.59,74.5 638.91,74.5 640.23,74.49 641.55,74.48 642.88,74.48 644.2,74.47 645.52,74.47 646.84,74.46 648.16,74.46 649.48,74.45 650.8,74.45 652.12,74.44 653.44,74.44 654.76,74.44 656.08,74.43 657.4,74.43" fill="none" stroke="#000000" stroke-width="4.5" stroke-linecap="round" stroke-linejoin="round"/>
<circle cx="209.4" cy="488.8" r="8" fill="#ee8428"/>
<circle cx="299" cy="418" r="8" fill="#ee8428"/>
<circle cx="388.6" cy="358.2" r="8" fill="#ee8428"/>
<circle cx="478.2" cy="316" r="8" fill="#ee8428"/>
<circle cx="567.8" cy="289.6" r="8" fill="#ee8428"/>
<circle cx="209.4" cy="408.3" r="8" fill="#e0262b"/>
<circle cx="299" cy="298" r="8" fill="#e0262b"/>
<circle cx="388.6" cy="234.4" r="8" fill="#e0262b"/>
<circle cx="478.2" cy="200.5" r="8" fill="#e0262b"/>
<circle cx="567.8" cy="184.3" r="8" fill="#e0262b"/>
<circle cx="209.4" cy="297" r="8" fill="#3b5bb0"/>
<circle cx="299" cy="193.6" r="8" fill="#3b5bb0"/>
<circle cx="388.6" cy="154.5" r="8" fill="#3b5bb0"/>
<circle cx="478.2" cy="138.3" r="8" fill="#3b5bb0"/>
<circle cx="567.8" cy="127.7" r="8" fill="#3b5bb0"/>
<circle cx="209.4" cy="207.4" r="8" fill="#17a34a"/>
<circle cx="299" cy="133.2" r="8" fill="#17a34a"/>
<circle cx="388.6" cy="111.6" r="8" fill="#17a34a"/>
<circle cx="478.2" cy="99.3" r="8" fill="#17a34a"/>
<circle cx="209.4" cy="104.7" r="8" fill="#000000"/>
<circle cx="299" cy="85.2" r="8" fill="#000000"/>
<circle cx="478.2" cy="74.2" r="8" fill="#000000"/>
<text x="119.8" y="601.5" text-anchor="middle" style="font-family:'Liberation Sans',sans-serif;font-size:24.5px">0.0</text>
<text x="227.32" y="601.5" text-anchor="middle" style="font-family:'Liberation Sans',sans-serif;font-size:24.5px">0.2</text>
<text x="334.84" y="601.5" text-anchor="middle" style="font-family:'Liberation Sans',sans-serif;font-size:24.5px">0.4</text>
<text x="442.36" y="601.5" text-anchor="middle" style="font-family:'Liberation Sans',sans-serif;font-size:24.5px">0.6</text>
<text x="549.88" y="601.5" text-anchor="middle" style="font-family:'Liberation Sans',sans-serif;font-size:24.5px">0.8</text>
<text x="657.4" y="601.5" text-anchor="middle" style="font-family:'Liberation Sans',sans-serif;font-size:24.5px">1.0</text>
<text x="91.5" y="570.3" text-anchor="end" style="font-family:'Liberation Sans',sans-serif;font-size:24.5px">0.0</text>
<text x="91.5" y="448.68" text-anchor="end" style="font-family:'Liberation Sans',sans-serif;font-size:24.5px">0.5</text>
<text x="91.5" y="327.05" text-anchor="end" style="font-family:'Liberation Sans',sans-serif;font-size:24.5px">1.0</text>
<text x="91.5" y="205.43" text-anchor="end" style="font-family:'Liberation Sans',sans-serif;font-size:24.5px">1.5</text>
<text x="91.5" y="83.8" text-anchor="end" style="font-family:'Liberation Sans',sans-serif;font-size:24.5px">2.0</text>
<line x1="505" y1="362.5" x2="534.5" y2="362.5" stroke="#000000" stroke-width="4" stroke-linecap="round"/>
<text x="552" y="371.4" style="font-family:'Liberation Sans',sans-serif;font-size:29.5px">10, 2</text>
<line x1="505" y1="400.95" x2="534.5" y2="400.95" stroke="#17a34a" stroke-width="4" stroke-linecap="round"/>
<text x="552" y="409.85" style="font-family:'Liberation Sans',sans-serif;font-size:29.5px">20, 2</text>
<line x1="505" y1="439.4" x2="534.5" y2="439.4" stroke="#3b5bb0" stroke-width="4" stroke-linecap="round"/>
<text x="552" y="448.3" style="font-family:'Liberation Sans',sans-serif;font-size:29.5px">30, 2</text>
<line x1="505" y1="477.85" x2="534.5" y2="477.85" stroke="#e0262b" stroke-width="4" stroke-linecap="round"/>
<text x="552" y="486.75" style="font-family:'Liberation Sans',sans-serif;font-size:29.5px">50, 2</text>
<line x1="505" y1="516.3" x2="534.5" y2="516.3" stroke="#ee8428" stroke-width="4" stroke-linecap="round"/>
<text x="552" y="525.2" style="font-family:'Liberation Sans',sans-serif;font-size:29.5px">100, 2</text>
<text x="354.5" y="643.7" style="font-family:'Liberation Sans',sans-serif;font-size:29px"><tspan font-style="italic">k</tspan> (ΓL)</text>
<line x1="388.6" y1="618.2" x2="419.1" y2="618.2" stroke="#000" stroke-width="2"/>
<text transform="translate(20.8,333) rotate(-90)" style="font-family:'Liberation Sans',sans-serif;font-size:29px"><tspan font-style="italic">ω</tspan><tspan font-size="17" dy="9" dx="-1">pp</tspan><tspan dy="-9"> (eV)</tspan></text>
<path d="M842.5 561.5v7 M842.5 2v7 M869.37 561.5v4 M869.37 2v4 M896.24 561.5v4 M896.24 2v4 M923.11 561.5v4 M923.11 2v4 M949.98 561.5v7 M949.98 2v7 M976.85 561.5v4 M976.85 2v4 M1003.72 561.5v4 M1003.72 2v4 M1030.59 561.5v4 M1030.59 2v4 M1057.46 561.5v7 M1057.46 2v7 M1084.33 561.5v4 M1084.33 2v4 M1111.2 561.5v4 M1111.2 2v4 M1138.07 561.5v4 M1138.07 2v4 M1164.94 561.5v7 M1164.94 2v7 M1191.81 561.5v4 M1191.81 2v4 M1218.68 561.5v4 M1218.68 2v4 M1245.55 561.5v4 M1245.55 2v4 M1272.42 561.5v7 M1272.42 2v7 M1299.29 561.5v4 M1299.29 2v4 M1326.16 561.5v4 M1326.16 2v4 M1353.03 561.5v4 M1353.03 2v4 M1379.9 561.5v7 M1379.9 2v7 M831.4 561.5h-7 M1391.2 561.5h-7 M831.4 537.17h-4 M1391.2 537.17h-4 M831.4 512.85h-4 M1391.2 512.85h-4 M831.4 488.52h-4 M1391.2 488.52h-4 M831.4 464.2h-4 M1391.2 464.2h-4 M831.4 439.88h-7 M1391.2 439.88h-7 M831.4 415.55h-4 M1391.2 415.55h-4 M831.4 391.23h-4 M1391.2 391.23h-4 M831.4 366.9h-4 M1391.2 366.9h-4 M831.4 342.57h-4 M1391.2 342.57h-4 M831.4 318.25h-7 M1391.2 318.25h-7 M831.4 293.92h-4 M1391.2 293.92h-4 M831.4 269.6h-4 M1391.2 269.6h-4 M831.4 245.27h-4 M1391.2 245.27h-4 M831.4 220.95h-4 M1391.2 220.95h-4 M831.4 196.62h-7 M1391.2 196.62h-7 M831.4 172.3h-4 M1391.2 172.3h-4 M831.4 147.97h-4 M1391.2 147.97h-4 M831.4 123.65h-4 M1391.2 123.65h-4 M831.4 99.32h-4 M1391.2 99.32h-4 M831.4 75h-7 M1391.2 75h-7 M831.4 50.67h-4 M1391.2 50.67h-4 M831.4 26.35h-4 M1391.2 26.35h-4 M831.4 2.02h-4 M1391.2 2.02h-4" stroke="#000" stroke-width="2" fill="none"/>
<rect x="831.4" y="2" width="559.8" height="559.5" stroke="#000" stroke-width="2" fill="none"/>
<polyline points="842.5,561.5 842.77,561.07 843.04,560.65 843.31,560.22 843.57,559.79 843.84,559.37 844.11,558.94 844.38,558.51 844.65,558.09 844.92,557.66 845.19,557.23 845.46,556.81 845.72,556.38 845.99,555.95 846.26,555.53 846.53,555.1 846.8,554.68 847.07,554.25 847.34,553.82 847.61,553.4 847.87,552.97 848.14,552.54 848.41,552.12 848.68,551.69 848.95,551.27 849.22,550.84 849.49,550.41 849.75,549.99 850.02,549.56 850.29,549.13 850.56,548.71 850.83,548.28 851.1,547.86 851.37,547.43 851.64,547 851.9,546.58 852.17,546.15 852.44,545.73 852.71,545.3 852.98,544.88 853.25,544.45 854.57,542.36 855.89,540.27 857.21,538.19 858.53,536.1 859.85,534.02 861.17,531.94 862.49,529.87 863.81,527.79 865.13,525.72 866.45,523.65 867.77,521.59 869.09,519.52 870.41,517.47 871.73,515.41 873.05,513.36 874.37,511.31 875.69,509.27 877.01,507.23 878.33,505.2 879.65,503.17 880.97,501.15 882.29,499.13 883.61,497.12 884.93,495.11 886.25,493.11 887.57,491.11 888.89,489.12 890.21,487.14 891.53,485.16 892.85,483.19 894.17,481.23 895.49,479.27 896.81,477.32 898.13,475.37 899.45,473.44 900.77,471.51 902.09,469.58 903.41,467.67 904.73,465.76 906.05,463.86 907.37,461.97 908.69,460.09 910,458.21 911.32,456.34 912.64,454.48 913.96,452.63 915.28,450.79 916.6,448.96 917.92,447.13 919.24,445.32 920.56,443.51 921.88,441.71 923.2,439.92 924.52,438.14 925.84,436.37 927.16,434.61 928.48,432.85 929.8,431.11 931.12,429.38 932.44,427.65 933.76,425.94 935.08,424.23 936.4,422.54 937.72,420.85 939.04,419.17 940.36,417.51 941.68,415.85 943,414.2 944.32,412.57 945.64,410.94 946.96,409.32 948.28,407.72 949.6,406.12 950.92,404.53 952.24,402.96 953.56,401.39 954.88,399.83 956.2,398.29 957.52,396.75 958.84,395.22 960.16,393.71 961.48,392.2 962.8,390.71 964.12,389.22 965.44,387.75 966.76,386.28 968.08,384.82 969.4,383.38 970.72,381.95 972.04,380.52 973.36,379.11 974.68,377.7 976,376.31 977.32,374.92 978.64,373.55 979.96,372.18 981.28,370.83 982.6,369.49 983.92,368.15 985.24,366.83 986.56,365.51 987.88,364.21 989.2,362.91 990.52,361.63 991.84,360.35 993.16,359.09 994.48,357.83 995.8,356.59 997.12,355.35 998.44,354.12 999.76,352.91 1001.08,351.7 1002.4,350.5 1003.72,349.31 1005.04,348.13 1006.36,346.96 1007.68,345.8 1009,344.65 1010.32,343.51 1011.64,342.38 1012.96,341.25 1014.28,340.14 1015.6,339.03 1016.92,337.93 1018.24,336.85 1019.56,335.77 1020.88,334.7 1022.2,333.64 1023.52,332.58 1024.84,331.54 1026.16,330.51 1027.48,329.48 1028.8,328.46 1030.12,327.45 1031.44,326.45 1032.76,325.46 1034.08,324.47 1035.4,323.5 1036.72,322.53 1038.04,321.57 1039.36,320.62 1040.68,319.68 1042,318.74 1043.32,317.81 1044.64,316.89 1045.96,315.98 1047.28,315.08 1048.6,314.18 1049.92,313.29 1051.24,312.41 1052.56,311.54 1053.88,310.67 1055.2,309.81 1056.52,308.96 1057.84,308.12 1059.16,307.28 1060.48,306.45 1061.8,305.63 1063.12,304.82 1064.44,304.01 1065.76,303.21 1067.08,302.41 1068.4,301.63 1069.72,300.85 1071.04,300.07 1072.36,299.31 1073.68,298.55 1075,297.79 1076.32,297.04 1077.64,296.3 1078.96,295.57 1080.28,294.84 1081.6,294.12 1082.92,293.41 1084.24,292.7 1085.56,292 1086.88,291.3 1088.2,290.61 1089.52,289.92 1090.84,289.25 1092.16,288.57 1093.48,287.91 1094.8,287.25 1096.12,286.59 1097.44,285.94 1098.75,285.3 1100.07,284.66 1101.39,284.03 1102.71,283.4 1104.03,282.78 1105.35,282.17 1106.67,281.56 1107.99,280.95 1109.31,280.35 1110.63,279.76 1111.95,279.17 1113.27,278.58 1114.59,278 1115.91,277.43 1117.23,276.86 1118.55,276.3 1119.87,275.74 1121.19,275.18 1122.51,274.63 1123.83,274.09 1125.15,273.55 1126.47,273.01 1127.79,272.48 1129.11,271.96 1130.43,271.44 1131.75,270.92 1133.07,270.41 1134.39,269.9 1135.71,269.39 1137.03,268.89 1138.35,268.4 1139.67,267.91 1140.99,267.42 1142.31,266.94 1143.63,266.46 1144.95,265.99 1146.27,265.52 1147.59,265.05 1148.91,264.59 1150.23,264.13 1151.55,263.68 1152.87,263.23 1154.19,262.78 1155.51,262.34 1156.83,261.9 1158.15,261.47 1159.47,261.04 1160.79,260.61 1162.11,260.18 1163.43,259.76 1164.75,259.35 1166.07,258.93 1167.39,258.53 1168.71,258.12 1170.03,257.72 1171.35,257.32 1172.67,256.92 1173.99,256.53 1175.31,256.14 1176.63,255.75 1177.95,255.37 1179.27,254.99 1180.59,254.62 1181.91,254.24 1183.23,253.87 1184.55,253.51 1185.87,253.14 1187.19,252.78 1188.51,252.42 1189.83,252.07 1191.15,251.72 1192.47,251.37 1193.79,251.02 1195.11,250.68 1196.43,250.34 1197.75,250 1199.07,249.67 1200.39,249.33 1201.71,249 1203.03,248.68 1204.35,248.35 1205.67,248.03 1206.99,247.71 1208.31,247.4 1209.63,247.08 1210.95,246.77 1212.27,246.46 1213.59,246.16 1214.91,245.86 1216.23,245.55 1217.55,245.26 1218.87,244.96 1220.19,244.67 1221.51,244.38 1222.83,244.09 1224.15,243.8 1225.47,243.52 1226.79,243.23 1228.11,242.95 1229.43,242.68 1230.75,242.4 1232.07,242.13 1233.39,241.86 1234.71,241.59 1236.03,241.32 1237.35,241.06 1238.67,240.8 1239.99,240.54 1241.31,240.28 1242.63,240.02 1243.95,239.77 1245.27,239.51 1246.59,239.26 1247.91,239.02 1249.23,238.77 1250.55,238.52 1251.87,238.28 1253.19,238.04 1254.51,237.8 1255.83,237.57 1257.15,237.33 1258.47,237.1 1259.79,236.87 1261.11,236.64 1262.43,236.41 1263.75,236.18 1265.07,235.96 1266.39,235.74 1267.71,235.52 1269.03,235.3 1270.35,235.08 1271.67,234.86 1272.99,234.65 1274.31,234.44 1275.63,234.22 1276.95,234.02 1278.27,233.81 1279.59,233.6 1280.91,233.4 1282.23,233.19 1283.55,232.99 1284.87,232.79 1286.18,232.59 1287.5,232.4 1288.82,232.2 1290.14,232.01 1291.46,231.81 1292.78,231.62 1294.1,231.43 1295.42,231.24 1296.74,231.06 1298.06,230.87 1299.38,230.69 1300.7,230.5 1302.02,230.32 1303.34,230.14 1304.66,229.96 1305.98,229.78 1307.3,229.61 1308.62,229.43 1309.94,229.26 1311.26,229.09 1312.58,228.92 1313.9,228.75 1315.22,228.58 1316.54,228.41 1317.86,228.24 1319.18,228.08 1320.5,227.91 1321.82,227.75 1323.14,227.59 1324.46,227.43 1325.78,227.27 1327.1,227.11 1328.42,226.95 1329.74,226.8 1331.06,226.64 1332.38,226.49 1333.7,226.34 1335.02,226.18 1336.34,226.03 1337.66,225.88 1338.98,225.74 1340.3,225.59 1341.62,225.44 1342.94,225.3 1344.26,225.15 1345.58,225.01 1346.9,224.87 1348.22,224.73 1349.54,224.59 1350.86,224.45 1352.18,224.31 1353.5,224.17 1354.82,224.03 1356.14,223.9 1357.46,223.76 1358.78,223.63 1360.1,223.5 1361.42,223.36 1362.74,223.23 1364.06,223.1 1365.38,222.97 1366.7,222.85 1368.02,222.72 1369.34,222.59 1370.66,222.47 1371.98,222.34 1373.3,222.22 1374.62,222.09 1375.94,221.97 1377.26,221.85 1378.58,221.73 1379.9,221.61" fill="none" stroke="#ee8428" stroke-width="4.5" stroke-linecap="round" stroke-linejoin="round"/>
<polyline points="842.5,561.5 842.77,561.02 843.04,560.53 843.31,560.05 843.57,559.57 843.84,559.08 844.11,558.6 844.38,558.12 844.65,557.63 844.92,557.15 845.19,556.67 845.46,556.18 845.72,555.7 845.99,555.22 846.26,554.74 846.53,554.25 846.8,553.77 847.07,553.29 847.34,552.8 847.61,552.32 847.87,551.84 848.14,551.35 848.41,550.87 848.68,550.39 848.95,549.9 849.22,549.42 849.49,548.94 849.75,548.45 850.02,547.97 850.29,547.49 850.56,547.01 850.83,546.52 851.1,546.04 851.37,545.56 851.64,545.07 851.9,544.59 852.17,544.11 852.44,543.63 852.71,543.14 852.98,542.66 853.25,542.18 854.57,539.81 855.89,537.44 857.21,535.07 858.53,532.7 859.85,530.34 861.17,527.97 862.49,525.61 863.81,523.25 865.13,520.89 866.45,518.54 867.77,516.19 869.09,513.83 870.41,511.49 871.73,509.14 873.05,506.8 874.37,504.46 875.69,502.13 877.01,499.79 878.33,497.47 879.65,495.14 880.97,492.82 882.29,490.51 883.61,488.2 884.93,485.89 886.25,483.59 887.57,481.29 888.89,479 890.21,476.72 891.53,474.44 892.85,472.16 894.17,469.89 895.49,467.63 896.81,465.38 898.13,463.13 899.45,460.88 900.77,458.65 902.09,456.42 903.41,454.2 904.73,451.98 906.05,449.78 907.37,447.58 908.69,445.38 910,443.2 911.32,441.03 912.64,438.86 913.96,436.7 915.28,434.55 916.6,432.41 917.92,430.28 919.24,428.15 920.56,426.04 921.88,423.93 923.2,421.84 924.52,419.75 925.84,417.68 927.16,415.61 928.48,413.55 929.8,411.51 931.12,409.47 932.44,407.44 933.76,405.43 935.08,403.42 936.4,401.43 937.72,399.44 939.04,397.47 940.36,395.51 941.68,393.56 943,391.62 944.32,389.69 945.64,387.77 946.96,385.86 948.28,383.97 949.6,382.08 950.92,380.21 952.24,378.35 953.56,376.5 954.88,374.66 956.2,372.84 957.52,371.02 958.84,369.22 960.16,367.43 961.48,365.65 962.8,363.88 964.12,362.13 965.44,360.39 966.76,358.66 968.08,356.94 969.4,355.23 970.72,353.54 972.04,351.85 973.36,350.18 974.68,348.52 976,346.88 977.32,345.24 978.64,343.62 979.96,342.01 981.28,340.41 982.6,338.83 983.92,337.25 985.24,335.69 986.56,334.14 987.88,332.6 989.2,331.08 990.52,329.56 991.84,328.06 993.16,326.57 994.48,325.09 995.8,323.63 997.12,322.17 998.44,320.73 999.76,319.3 1001.08,317.88 1002.4,316.47 1003.72,315.08 1005.04,313.69 1006.36,312.32 1007.68,310.96 1009,309.61 1010.32,308.27 1011.64,306.95 1012.96,305.63 1014.28,304.33 1015.6,303.03 1016.92,301.75 1018.24,300.48 1019.56,299.22 1020.88,297.97 1022.2,296.74 1023.52,295.51 1024.84,294.29 1026.16,293.09 1027.48,291.89 1028.8,290.71 1030.12,289.53 1031.44,288.37 1032.76,287.22 1034.08,286.08 1035.4,284.94 1036.72,283.82 1038.04,282.71 1039.36,281.61 1040.68,280.52 1042,279.43 1043.32,278.36 1044.64,277.3 1045.96,276.25 1047.28,275.2 1048.6,274.17 1049.92,273.14 1051.24,272.13 1052.56,271.12 1053.88,270.13 1055.2,269.14 1056.52,268.16 1057.84,267.19 1059.16,266.23 1060.48,265.28 1061.8,264.34 1063.12,263.41 1064.44,262.48 1065.76,261.57 1067.08,260.66 1068.4,259.76 1069.72,258.87 1071.04,257.98 1072.36,257.11 1073.68,256.24 1075,255.39 1076.32,254.53 1077.64,253.69 1078.96,252.86 1080.28,252.03 1081.6,251.21 1082.92,250.4 1084.24,249.6 1085.56,248.8 1086.88,248.01 1088.2,247.23 1089.52,246.46 1090.84,245.69 1092.16,244.93 1093.48,244.18 1094.8,243.43 1096.12,242.69 1097.44,241.96 1098.75,241.24 1100.07,240.52 1101.39,239.81 1102.71,239.1 1104.03,238.41 1105.35,237.71 1106.67,237.03 1107.99,236.35 1109.31,235.68 1110.63,235.01 1111.95,234.35 1113.27,233.7 1114.59,233.05 1115.91,232.41 1117.23,231.77 1118.55,231.14 1119.87,230.52 1121.19,229.9 1122.51,229.29 1123.83,228.68 1125.15,228.08 1126.47,227.48 1127.79,226.89 1129.11,226.31 1130.43,225.73 1131.75,225.15 1133.07,224.59 1134.39,224.02 1135.71,223.46 1137.03,222.91 1138.35,222.36 1139.67,221.82 1140.99,221.28 1142.31,220.75 1143.63,220.22 1144.95,219.69 1146.27,219.18 1147.59,218.66 1148.91,218.15 1150.23,217.65 1151.55,217.15 1152.87,216.65 1154.19,216.16 1155.51,215.67 1156.83,215.19 1158.15,214.71 1159.47,214.24 1160.79,213.77 1162.11,213.3 1163.43,212.84 1164.75,212.38 1166.07,211.93 1167.39,211.48 1168.71,211.04 1170.03,210.6 1171.35,210.16 1172.67,209.73 1173.99,209.3 1175.31,208.87 1176.63,208.45 1177.95,208.03 1179.27,207.62 1180.59,207.21 1181.91,206.8 1183.23,206.4 1184.55,206 1185.87,205.6 1187.19,205.21 1188.51,204.82 1189.83,204.43 1191.15,204.05 1192.47,203.67 1193.79,203.29 1195.11,202.92 1196.43,202.55 1197.75,202.18 1199.07,201.82 1200.39,201.46 1201.71,201.1 1203.03,200.75 1204.35,200.4 1205.67,200.05 1206.99,199.7 1208.31,199.36 1209.63,199.02 1210.95,198.68 1212.27,198.35 1213.59,198.02 1214.91,197.69 1216.23,197.37 1217.55,197.04 1218.87,196.72 1220.19,196.41 1221.51,196.09 1222.83,195.78 1224.15,195.47 1225.47,195.17 1226.79,194.86 1228.11,194.56 1229.43,194.26 1230.75,193.96 1232.07,193.67 1233.39,193.38 1234.71,193.09 1236.03,192.8 1237.35,192.52 1238.67,192.24 1239.99,191.96 1241.31,191.68 1242.63,191.4 1243.95,191.13 1245.27,190.86 1246.59,190.59 1247.91,190.32 1249.23,190.06 1250.55,189.8 1251.87,189.54 1253.19,189.28 1254.51,189.02 1255.83,188.77 1257.15,188.52 1258.47,188.27 1259.79,188.02 1261.11,187.77 1262.43,187.53 1263.75,187.29 1265.07,187.05 1266.39,186.81 1267.71,186.57 1269.03,186.34 1270.35,186.1 1271.67,185.87 1272.99,185.64 1274.31,185.42 1275.63,185.19 1276.95,184.97 1278.27,184.75 1279.59,184.53 1280.91,184.31 1282.23,184.09 1283.55,183.88 1284.87,183.66 1286.18,183.45 1287.5,183.24 1288.82,183.03 1290.14,182.82 1291.46,182.62 1292.78,182.41 1294.1,182.21 1295.42,182.01 1296.74,181.81 1298.06,181.61 1299.38,181.42 1300.7,181.22 1302.02,181.03 1303.34,180.84 1304.66,180.65 1305.98,180.46 1307.3,180.27 1308.62,180.08 1309.94,179.9 1311.26,179.72 1312.58,179.53 1313.9,179.35 1315.22,179.17 1316.54,179 1317.86,178.82 1319.18,178.64 1320.5,178.47 1321.82,178.3 1323.14,178.12 1324.46,177.95 1325.78,177.79 1327.1,177.62 1328.42,177.45 1329.74,177.28 1331.06,177.12 1332.38,176.96 1333.7,176.8 1335.02,176.63 1336.34,176.47 1337.66,176.32 1338.98,176.16 1340.3,176 1341.62,175.85 1342.94,175.69 1344.26,175.54 1345.58,175.39 1346.9,175.24 1348.22,175.09 1349.54,174.94 1350.86,174.79 1352.18,174.65 1353.5,174.5 1354.82,174.36 1356.14,174.21 1357.46,174.07 1358.78,173.93 1360.1,173.79 1361.42,173.65 1362.74,173.51 1364.06,173.37 1365.38,173.23 1366.7,173.1 1368.02,172.96 1369.34,172.83 1370.66,172.7 1371.98,172.56 1373.3,172.43 1374.62,172.3 1375.94,172.17 1377.26,172.05 1378.58,171.92 1379.9,171.79" fill="none" stroke="#e0262b" stroke-width="4.5" stroke-linecap="round" stroke-linejoin="round"/>
<polyline points="842.5,561.5 842.77,560.91 843.04,560.32 843.31,559.73 843.57,559.14 843.84,558.55 844.11,557.96 844.38,557.37 844.65,556.79 844.92,556.2 845.19,555.61 845.46,555.02 845.72,554.43 845.99,553.84 846.26,553.25 846.53,552.66 846.8,552.07 847.07,551.48 847.34,550.89 847.61,550.3 847.87,549.71 848.14,549.12 848.41,548.54 848.68,547.95 848.95,547.36 849.22,546.77 849.49,546.18 849.75,545.59 850.02,545 850.29,544.41 850.56,543.82 850.83,543.23 851.1,542.64 851.37,542.06 851.64,541.47 851.9,540.88 852.17,540.29 852.44,539.7 852.71,539.11 852.98,538.52 853.25,537.93 854.57,535.04 855.89,532.15 857.21,529.26 858.53,526.38 859.85,523.49 861.17,520.61 862.49,517.72 863.81,514.84 865.13,511.97 866.45,509.09 867.77,506.22 869.09,503.35 870.41,500.49 871.73,497.62 873.05,494.76 874.37,491.91 875.69,489.06 877.01,486.21 878.33,483.37 879.65,480.53 880.97,477.7 882.29,474.88 883.61,472.06 884.93,469.24 886.25,466.43 887.57,463.63 888.89,460.83 890.21,458.04 891.53,455.26 892.85,452.48 894.17,449.72 895.49,446.96 896.81,444.2 898.13,441.46 899.45,438.72 900.77,436 902.09,433.28 903.41,430.57 904.73,427.87 906.05,425.18 907.37,422.5 908.69,419.83 910,417.17 911.32,414.52 912.64,411.88 913.96,409.25 915.28,406.63 916.6,404.03 917.92,401.43 919.24,398.85 920.56,396.28 921.88,393.72 923.2,391.18 924.52,388.64 925.84,386.12 927.16,383.61 928.48,381.12 929.8,378.64 931.12,376.17 932.44,373.71 933.76,371.27 935.08,368.84 936.4,366.43 937.72,364.03 939.04,361.64 940.36,359.27 941.68,356.91 943,354.57 944.32,352.24 945.64,349.93 946.96,347.63 948.28,345.35 949.6,343.08 950.92,340.83 952.24,338.59 953.56,336.37 954.88,334.16 956.2,331.97 957.52,329.79 958.84,327.63 960.16,325.49 961.48,323.36 962.8,321.25 964.12,319.15 965.44,317.07 966.76,315 968.08,312.95 969.4,310.91 970.72,308.9 972.04,306.89 973.36,304.91 974.68,302.94 976,300.98 977.32,299.04 978.64,297.12 979.96,295.21 981.28,293.32 982.6,291.44 983.92,289.58 985.24,287.74 986.56,285.91 987.88,284.1 989.2,282.3 990.52,280.52 991.84,278.75 993.16,277 994.48,275.27 995.8,273.55 997.12,271.84 998.44,270.15 999.76,268.48 1001.08,266.82 1002.4,265.18 1003.72,263.55 1005.04,261.93 1006.36,260.33 1007.68,258.75 1009,257.18 1010.32,255.63 1011.64,254.09 1012.96,252.56 1014.28,251.05 1015.6,249.55 1016.92,248.07 1018.24,246.6 1019.56,245.15 1020.88,243.7 1022.2,242.28 1023.52,240.86 1024.84,239.46 1026.16,238.08 1027.48,236.71 1028.8,235.35 1030.12,234 1031.44,232.67 1032.76,231.35 1034.08,230.04 1035.4,228.75 1036.72,227.46 1038.04,226.2 1039.36,224.94 1040.68,223.7 1042,222.46 1043.32,221.24 1044.64,220.04 1045.96,218.84 1047.28,217.66 1048.6,216.49 1049.92,215.33 1051.24,214.18 1052.56,213.04 1053.88,211.92 1055.2,210.8 1056.52,209.7 1057.84,208.61 1059.16,207.53 1060.48,206.46 1061.8,205.4 1063.12,204.35 1064.44,203.31 1065.76,202.28 1067.08,201.26 1068.4,200.26 1069.72,199.26 1071.04,198.27 1072.36,197.29 1073.68,196.33 1075,195.37 1076.32,194.42 1077.64,193.48 1078.96,192.55 1080.28,191.63 1081.6,190.72 1082.92,189.82 1084.24,188.93 1085.56,188.04 1086.88,187.17 1088.2,186.3 1089.52,185.45 1090.84,184.6 1092.16,183.76 1093.48,182.93 1094.8,182.1 1096.12,181.29 1097.44,180.48 1098.75,179.68 1100.07,178.89 1101.39,178.11 1102.71,177.33 1104.03,176.56 1105.35,175.8 1106.67,175.05 1107.99,174.3 1109.31,173.57 1110.63,172.84 1111.95,172.11 1113.27,171.4 1114.59,170.69 1115.91,169.98 1117.23,169.29 1118.55,168.6 1119.87,167.92 1121.19,167.24 1122.51,166.58 1123.83,165.91 1125.15,165.26 1126.47,164.61 1127.79,163.97 1129.11,163.33 1130.43,162.7 1131.75,162.08 1133.07,161.46 1134.39,160.85 1135.71,160.24 1137.03,159.64 1138.35,159.04 1139.67,158.46 1140.99,157.87 1142.31,157.29 1143.63,156.72 1144.95,156.16 1146.27,155.59 1147.59,155.04 1148.91,154.49 1150.23,153.94 1151.55,153.4 1152.87,152.87 1154.19,152.34 1155.51,151.81 1156.83,151.29 1158.15,150.78 1159.47,150.26 1160.79,149.76 1162.11,149.26 1163.43,148.76 1164.75,148.27 1166.07,147.78 1167.39,147.3 1168.71,146.82 1170.03,146.35 1171.35,145.88 1172.67,145.41 1173.99,144.95 1175.31,144.5 1176.63,144.04 1177.95,143.6 1179.27,143.15 1180.59,142.71 1181.91,142.28 1183.23,141.84 1184.55,141.42 1185.87,140.99 1187.19,140.57 1188.51,140.15 1189.83,139.74 1191.15,139.33 1192.47,138.93 1193.79,138.52 1195.11,138.13 1196.43,137.73 1197.75,137.34 1199.07,136.95 1200.39,136.57 1201.71,136.19 1203.03,135.81 1204.35,135.43 1205.67,135.06 1206.99,134.7 1208.31,134.33 1209.63,133.97 1210.95,133.61 1212.27,133.26 1213.59,132.91 1214.91,132.56 1216.23,132.21 1217.55,131.87 1218.87,131.53 1220.19,131.19 1221.51,130.86 1222.83,130.52 1224.15,130.2 1225.47,129.87 1226.79,129.55 1228.11,129.23 1229.43,128.91 1230.75,128.6 1232.07,128.28 1233.39,127.97 1234.71,127.67 1236.03,127.36 1237.35,127.06 1238.67,126.76 1239.99,126.47 1241.31,126.17 1242.63,125.88 1243.95,125.59 1245.27,125.3 1246.59,125.02 1247.91,124.74 1249.23,124.46 1250.55,124.18 1251.87,123.9 1253.19,123.63 1254.51,123.36 1255.83,123.09 1257.15,122.82 1258.47,122.56 1259.79,122.3 1261.11,122.04 1262.43,121.78 1263.75,121.52 1265.07,121.27 1266.39,121.02 1267.71,120.77 1269.03,120.52 1270.35,120.28 1271.67,120.03 1272.99,119.79 1274.31,119.55 1275.63,119.31 1276.95,119.08 1278.27,118.84 1279.59,118.61 1280.91,118.38 1282.23,118.15 1283.55,117.92 1284.87,117.7 1286.18,117.47 1287.5,117.25 1288.82,117.03 1290.14,116.81 1291.46,116.6 1292.78,116.38 1294.1,116.17 1295.42,115.96 1296.74,115.75 1298.06,115.54 1299.38,115.33 1300.7,115.13 1302.02,114.92 1303.34,114.72 1304.66,114.52 1305.98,114.32 1307.3,114.12 1308.62,113.93 1309.94,113.73 1311.26,113.54 1312.58,113.35 1313.9,113.16 1315.22,112.97 1316.54,112.78 1317.86,112.59 1319.18,112.41 1320.5,112.23 1321.82,112.04 1323.14,111.86 1324.46,111.68 1325.78,111.51 1327.1,111.33 1328.42,111.15 1329.74,110.98 1331.06,110.81 1332.38,110.64 1333.7,110.46 1335.02,110.3 1336.34,110.13 1337.66,109.96 1338.98,109.8 1340.3,109.63 1341.62,109.47 1342.94,109.31 1344.26,109.15 1345.58,108.99 1346.9,108.83 1348.22,108.67 1349.54,108.51 1350.86,108.36 1352.18,108.2 1353.5,108.05 1354.82,107.9 1356.14,107.75 1357.46,107.6 1358.78,107.45 1360.1,107.3 1361.42,107.15 1362.74,107.01 1364.06,106.86 1365.38,106.72 1366.7,106.58 1368.02,106.44 1369.34,106.3 1370.66,106.16 1371.98,106.02 1373.3,105.88 1374.62,105.74 1375.94,105.61 1377.26,105.47 1378.58,105.34 1379.9,105.2" fill="none" stroke="#3b5bb0" stroke-width="4.5" stroke-linecap="round" stroke-linejoin="round"/>
<polyline points="842.5,561.5 842.77,560.82 843.04,560.13 843.31,559.45 843.57,558.77 843.84,558.09 844.11,557.4 844.38,556.72 844.65,556.04 844.92,555.36 845.19,554.67 845.46,553.99 845.72,553.31 845.99,552.63 846.26,551.94 846.53,551.26 846.8,550.58 847.07,549.9 847.34,549.21 847.61,548.53 847.87,547.85 848.14,547.17 848.41,546.48 848.68,545.8 848.95,545.12 849.22,544.44 849.49,543.75 849.75,543.07 850.02,542.39 850.29,541.71 850.56,541.02 850.83,540.34 851.1,539.66 851.37,538.98 851.64,538.3 851.9,537.61 852.17,536.93 852.44,536.25 852.71,535.57 852.98,534.88 853.25,534.2 854.57,530.85 855.89,527.5 857.21,524.15 858.53,520.8 859.85,517.46 861.17,514.11 862.49,510.76 863.81,507.42 865.13,504.08 866.45,500.74 867.77,497.4 869.09,494.07 870.41,490.74 871.73,487.41 873.05,484.08 874.37,480.76 875.69,477.44 877.01,474.12 878.33,470.81 879.65,467.5 880.97,464.2 882.29,460.9 883.61,457.61 884.93,454.32 886.25,451.04 887.57,447.76 888.89,444.49 890.21,441.23 891.53,437.97 892.85,434.73 894.17,431.48 895.49,428.25 896.81,425.03 898.13,421.81 899.45,418.6 900.77,415.41 902.09,412.22 903.41,409.04 904.73,405.87 906.05,402.72 907.37,399.57 908.69,396.43 910,393.31 911.32,390.2 912.64,387.1 913.96,384.01 915.28,380.94 916.6,377.88 917.92,374.83 919.24,371.8 920.56,368.78 921.88,365.78 923.2,362.79 924.52,359.81 925.84,356.86 927.16,353.91 928.48,350.99 929.8,348.08 931.12,345.18 932.44,342.31 933.76,339.45 935.08,336.6 936.4,333.78 937.72,330.97 939.04,328.18 940.36,325.41 941.68,322.66 943,319.93 944.32,317.22 945.64,314.52 946.96,311.85 948.28,309.19 949.6,306.56 950.92,303.94 952.24,301.34 953.56,298.77 954.88,296.21 956.2,293.68 957.52,291.17 958.84,288.67 960.16,286.2 961.48,283.75 962.8,281.32 964.12,278.91 965.44,276.52 966.76,274.15 968.08,271.81 969.4,269.48 970.72,267.18 972.04,264.9 973.36,262.64 974.68,260.4 976,258.18 977.32,255.99 978.64,253.81 979.96,251.66 981.28,249.53 982.6,247.42 983.92,245.33 985.24,243.26 986.56,241.21 987.88,239.19 989.2,237.18 990.52,235.2 991.84,233.24 993.16,231.3 994.48,229.38 995.8,227.47 997.12,225.59 998.44,223.74 999.76,221.9 1001.08,220.08 1002.4,218.28 1003.72,216.5 1005.04,214.74 1006.36,213 1007.68,211.28 1009,209.58 1010.32,207.9 1011.64,206.24 1012.96,204.59 1014.28,202.97 1015.6,201.37 1016.92,199.78 1018.24,198.21 1019.56,196.66 1020.88,195.13 1022.2,193.61 1023.52,192.12 1024.84,190.64 1026.16,189.18 1027.48,187.73 1028.8,186.3 1030.12,184.89 1031.44,183.5 1032.76,182.12 1034.08,180.76 1035.4,179.42 1036.72,178.09 1038.04,176.78 1039.36,175.48 1040.68,174.2 1042,172.93 1043.32,171.68 1044.64,170.44 1045.96,169.22 1047.28,168.02 1048.6,166.82 1049.92,165.65 1051.24,164.48 1052.56,163.33 1053.88,162.2 1055.2,161.07 1056.52,159.96 1057.84,158.87 1059.16,157.79 1060.48,156.72 1061.8,155.66 1063.12,154.62 1064.44,153.58 1065.76,152.56 1067.08,151.56 1068.4,150.56 1069.72,149.58 1071.04,148.61 1072.36,147.65 1073.68,146.7 1075,145.76 1076.32,144.83 1077.64,143.92 1078.96,143.01 1080.28,142.12 1081.6,141.24 1082.92,140.36 1084.24,139.5 1085.56,138.65 1086.88,137.81 1088.2,136.97 1089.52,136.15 1090.84,135.34 1092.16,134.53 1093.48,133.74 1094.8,132.95 1096.12,132.17 1097.44,131.41 1098.75,130.65 1100.07,129.9 1101.39,129.16 1102.71,128.42 1104.03,127.7 1105.35,126.98 1106.67,126.27 1107.99,125.57 1109.31,124.88 1110.63,124.19 1111.95,123.52 1113.27,122.85 1114.59,122.18 1115.91,121.53 1117.23,120.88 1118.55,120.24 1119.87,119.61 1121.19,118.98 1122.51,118.36 1123.83,117.75 1125.15,117.14 1126.47,116.54 1127.79,115.95 1129.11,115.37 1130.43,114.78 1131.75,114.21 1133.07,113.64 1134.39,113.08 1135.71,112.53 1137.03,111.98 1138.35,111.43 1139.67,110.89 1140.99,110.36 1142.31,109.83 1143.63,109.31 1144.95,108.8 1146.27,108.29 1147.59,107.78 1148.91,107.28 1150.23,106.79 1151.55,106.3 1152.87,105.81 1154.19,105.33 1155.51,104.86 1156.83,104.39 1158.15,103.92 1159.47,103.46 1160.79,103 1162.11,102.55 1163.43,102.1 1164.75,101.66 1166.07,101.22 1167.39,100.79 1168.71,100.36 1170.03,99.93 1171.35,99.51 1172.67,99.1 1173.99,98.68 1175.31,98.27 1176.63,97.87 1177.95,97.47 1179.27,97.07 1180.59,96.68 1181.91,96.29 1183.23,95.9 1184.55,95.52 1185.87,95.14 1187.19,94.77 1188.51,94.39 1189.83,94.03 1191.15,93.66 1192.47,93.3 1193.79,92.94 1195.11,92.59 1196.43,92.24 1197.75,91.89 1199.07,91.54 1200.39,91.2 1201.71,90.86 1203.03,90.53 1204.35,90.19 1205.67,89.86 1206.99,89.54 1208.31,89.21 1209.63,88.89 1210.95,88.58 1212.27,88.26 1213.59,87.95 1214.91,87.64 1216.23,87.33 1217.55,87.03 1218.87,86.73 1220.19,86.43 1221.51,86.13 1222.83,85.84 1224.15,85.55 1225.47,85.26 1226.79,84.97 1228.11,84.69 1229.43,84.41 1230.75,84.13 1232.07,83.85 1233.39,83.58 1234.71,83.3 1236.03,83.04 1237.35,82.77 1238.67,82.5 1239.99,82.24 1241.31,81.98 1242.63,81.72 1243.95,81.46 1245.27,81.21 1246.59,80.96 1247.91,80.71 1249.23,80.46 1250.55,80.21 1251.87,79.97 1253.19,79.73 1254.51,79.49 1255.83,79.25 1257.15,79.01 1258.47,78.78 1259.79,78.54 1261.11,78.31 1262.43,78.08 1263.75,77.86 1265.07,77.63 1266.39,77.41 1267.71,77.19 1269.03,76.97 1270.35,76.75 1271.67,76.53 1272.99,76.32 1274.31,76.1 1275.63,75.89 1276.95,75.68 1278.27,75.47 1279.59,75.26 1280.91,75.06 1282.23,74.86 1283.55,74.65 1284.87,74.45 1286.18,74.25 1287.5,74.06 1288.82,73.86 1290.14,73.66 1291.46,73.47 1292.78,73.28 1294.1,73.09 1295.42,72.9 1296.74,72.71 1298.06,72.52 1299.38,72.34 1300.7,72.16 1302.02,71.97 1303.34,71.79 1304.66,71.61 1305.98,71.43 1307.3,71.26 1308.62,71.08 1309.94,70.91 1311.26,70.73 1312.58,70.56 1313.9,70.39 1315.22,70.22 1316.54,70.05 1317.86,69.89 1319.18,69.72 1320.5,69.55 1321.82,69.39 1323.14,69.23 1324.46,69.07 1325.78,68.91 1327.1,68.75 1328.42,68.59 1329.74,68.43 1331.06,68.28 1332.38,68.12 1333.7,67.97 1335.02,67.81 1336.34,67.66 1337.66,67.51 1338.98,67.36 1340.3,67.21 1341.62,67.06 1342.94,66.92 1344.26,66.77 1345.58,66.63 1346.9,66.48 1348.22,66.34 1349.54,66.2 1350.86,66.06 1352.18,65.92 1353.5,65.78 1354.82,65.64 1356.14,65.5 1357.46,65.37 1358.78,65.23 1360.1,65.1 1361.42,64.96 1362.74,64.83 1364.06,64.7 1365.38,64.57 1366.7,64.44 1368.02,64.31 1369.34,64.18 1370.66,64.05 1371.98,63.92 1373.3,63.8 1374.62,63.67 1375.94,63.55 1377.26,63.42 1378.58,63.3 1379.9,63.18" fill="none" stroke="#17a34a" stroke-width="4.5" stroke-linecap="round" stroke-linejoin="round"/>
<polyline points="842.5,561.5 842.77,560.82 843.04,560.13 843.31,559.45 843.57,558.76 843.84,558.08 844.11,557.4 844.38,556.71 844.65,556.03 844.92,555.35 845.19,554.66 845.46,553.98 845.72,553.29 845.99,552.61 846.26,551.93 846.53,551.24 846.8,550.56 847.07,549.87 847.34,549.19 847.61,548.51 847.87,547.82 848.14,547.14 848.41,546.46 848.68,545.77 848.95,545.09 849.22,544.4 849.49,543.72 849.75,543.04 850.02,542.35 850.29,541.67 850.56,540.99 850.83,540.3 851.1,539.62 851.37,538.94 851.64,538.25 851.9,537.57 852.17,536.88 852.44,536.2 852.71,535.52 852.98,534.83 853.25,534.15 854.57,530.79 855.89,527.44 857.21,524.08 858.53,520.73 859.85,517.38 861.17,514.02 862.49,510.67 863.81,507.32 865.13,503.98 866.45,500.63 867.77,497.29 869.09,493.94 870.41,490.6 871.73,487.26 873.05,483.93 874.37,480.59 875.69,477.26 877.01,473.93 878.33,470.61 879.65,467.28 880.97,463.97 882.29,460.65 883.61,457.34 884.93,454.03 886.25,450.72 887.57,447.42 888.89,444.12 890.21,440.83 891.53,437.54 892.85,434.26 894.17,430.98 895.49,427.71 896.81,424.45 898.13,421.18 899.45,417.93 900.77,414.68 902.09,411.44 903.41,408.2 904.73,404.97 906.05,401.75 907.37,398.54 908.69,395.33 910,392.13 911.32,388.94 912.64,385.76 913.96,382.58 915.28,379.42 916.6,376.26 917.92,373.12 919.24,369.98 920.56,366.85 921.88,363.73 923.2,360.63 924.52,357.53 925.84,354.45 927.16,351.38 928.48,348.31 929.8,345.26 931.12,342.23 932.44,339.2 933.76,336.19 935.08,333.19 936.4,330.2 937.72,327.23 939.04,324.27 940.36,321.32 941.68,318.39 943,315.48 944.32,312.57 945.64,309.69 946.96,306.81 948.28,303.96 949.6,301.12 950.92,298.29 952.24,295.49 953.56,292.69 954.88,289.92 956.2,287.16 957.52,284.42 958.84,281.7 960.16,278.99 961.48,276.3 962.8,273.63 964.12,270.98 965.44,268.35 966.76,265.73 968.08,263.14 969.4,260.56 970.72,258 972.04,255.46 973.36,252.95 974.68,250.45 976,247.97 977.32,245.5 978.64,243.06 979.96,240.64 981.28,238.24 982.6,235.86 983.92,233.5 985.24,231.16 986.56,228.84 987.88,226.55 989.2,224.27 990.52,222.01 991.84,219.77 993.16,217.56 994.48,215.36 995.8,213.19 997.12,211.03 998.44,208.9 999.76,206.79 1001.08,204.7 1002.4,202.63 1003.72,200.58 1005.04,198.55 1006.36,196.54 1007.68,194.55 1009,192.59 1010.32,190.64 1011.64,188.72 1012.96,186.81 1014.28,184.92 1015.6,183.06 1016.92,181.22 1018.24,179.39 1019.56,177.59 1020.88,175.8 1022.2,174.04 1023.52,172.29 1024.84,170.57 1026.16,168.86 1027.48,167.18 1028.8,165.51 1030.12,163.86 1031.44,162.24 1032.76,160.63 1034.08,159.04 1035.4,157.46 1036.72,155.91 1038.04,154.37 1039.36,152.86 1040.68,151.36 1042,149.88 1043.32,148.41 1044.64,146.97 1045.96,145.54 1047.28,144.13 1048.6,142.74 1049.92,141.36 1051.24,140 1052.56,138.66 1053.88,137.33 1055.2,136.02 1056.52,134.72 1057.84,133.44 1059.16,132.18 1060.48,130.93 1061.8,129.7 1063.12,128.49 1064.44,127.28 1065.76,126.1 1067.08,124.93 1068.4,123.77 1069.72,122.63 1071.04,121.5 1072.36,120.38 1073.68,119.28 1075,118.2 1076.32,117.12 1077.64,116.06 1078.96,115.02 1080.28,113.98 1081.6,112.96 1082.92,111.96 1084.24,110.96 1085.56,109.98 1086.88,109.01 1088.2,108.05 1089.52,107.1 1090.84,106.17 1092.16,105.25 1093.48,104.34 1094.8,103.44 1096.12,102.55 1097.44,101.67 1098.75,100.8 1100.07,99.95 1101.39,99.1 1102.71,98.27 1104.03,97.44 1105.35,96.63 1106.67,95.83 1107.99,95.03 1109.31,94.25 1110.63,93.47 1111.95,92.71 1113.27,91.95 1114.59,91.21 1115.91,90.47 1117.23,89.74 1118.55,89.02 1119.87,88.31 1121.19,87.61 1122.51,86.92 1123.83,86.23 1125.15,85.55 1126.47,84.89 1127.79,84.22 1129.11,83.57 1130.43,82.93 1131.75,82.29 1133.07,81.66 1134.39,81.04 1135.71,80.42 1137.03,79.82 1138.35,79.22 1139.67,78.62 1140.99,78.04 1142.31,77.46 1143.63,76.89 1144.95,76.32 1146.27,75.76 1147.59,75.21 1148.91,74.67 1150.23,74.13 1151.55,73.59 1152.87,73.06 1154.19,72.54 1155.51,72.03 1156.83,71.52 1158.15,71.02 1159.47,70.52 1160.79,70.03 1162.11,69.54 1163.43,69.06 1164.75,68.58 1166.07,68.11 1167.39,67.65 1168.71,67.19 1170.03,66.73 1171.35,66.29 1172.67,65.84 1173.99,65.4 1175.31,64.97 1176.63,64.54 1177.95,64.11 1179.27,63.69 1180.59,63.28 1181.91,62.86 1183.23,62.46 1184.55,62.06 1185.87,61.66 1187.19,61.26 1188.51,60.87 1189.83,60.49 1191.15,60.11 1192.47,59.73 1193.79,59.36 1195.11,58.99 1196.43,58.62 1197.75,58.26 1199.07,57.9 1200.39,57.55 1201.71,57.2 1203.03,56.85 1204.35,56.51 1205.67,56.17 1206.99,55.84 1208.31,55.5 1209.63,55.17 1210.95,54.85 1212.27,54.53 1213.59,54.21 1214.91,53.89 1216.23,53.58 1217.55,53.27 1218.87,52.96 1220.19,52.66 1221.51,52.36 1222.83,52.06 1224.15,51.77 1225.47,51.48 1226.79,51.19 1228.11,50.9 1229.43,50.62 1230.75,50.34 1232.07,50.06 1233.39,49.79 1234.71,49.52 1236.03,49.25 1237.35,48.98 1238.67,48.72 1239.99,48.46 1241.31,48.2 1242.63,47.94 1243.95,47.69 1245.27,47.44 1246.59,47.19 1247.91,46.94 1249.23,46.7 1250.55,46.45 1251.87,46.21 1253.19,45.98 1254.51,45.74 1255.83,45.51 1257.15,45.28 1258.47,45.05 1259.79,44.82 1261.11,44.6 1262.43,44.37 1263.75,44.15 1265.07,43.94 1266.39,43.72 1267.71,43.5 1269.03,43.29 1270.35,43.08 1271.67,42.87 1272.99,42.66 1274.31,42.46 1275.63,42.26 1276.95,42.06 1278.27,41.86 1279.59,41.66 1280.91,41.46 1282.23,41.27 1283.55,41.07 1284.87,40.88 1286.18,40.69 1287.5,40.51 1288.82,40.32 1290.14,40.14 1291.46,39.95 1292.78,39.77 1294.1,39.59 1295.42,39.41 1296.74,39.24 1298.06,39.06 1299.38,38.89 1300.7,38.72 1302.02,38.55 1303.34,38.38 1304.66,38.21 1305.98,38.04 1307.3,37.88 1308.62,37.71 1309.94,37.55 1311.26,37.39 1312.58,37.23 1313.9,37.07 1315.22,36.92 1316.54,36.76 1317.86,36.61 1319.18,36.45 1320.5,36.3 1321.82,36.15 1323.14,36 1324.46,35.85 1325.78,35.7 1327.1,35.56 1328.42,35.41 1329.74,35.27 1331.06,35.13 1332.38,34.99 1333.7,34.85 1335.02,34.71 1336.34,34.57 1337.66,34.43 1338.98,34.3 1340.3,34.16 1341.62,34.03 1342.94,33.9 1344.26,33.77 1345.58,33.64 1346.9,33.51 1348.22,33.38 1349.54,33.25 1350.86,33.12 1352.18,33 1353.5,32.87 1354.82,32.75 1356.14,32.63 1357.46,32.51 1358.78,32.38 1360.1,32.26 1361.42,32.15 1362.74,32.03 1364.06,31.91 1365.38,31.79 1366.7,31.68 1368.02,31.56 1369.34,31.45 1370.66,31.34 1371.98,31.23 1373.3,31.11 1374.62,31 1375.94,30.89 1377.26,30.79 1378.58,30.68 1379.9,30.57" fill="none" stroke="#000000" stroke-width="4.5" stroke-linecap="round" stroke-linejoin="round"/>
<circle cx="932.07" cy="430.5" r="8" fill="#ee8428"/>
<circle cx="1021.63" cy="335.3" r="8" fill="#ee8428"/>
<circle cx="1111.2" cy="278.5" r="8" fill="#ee8428"/>
<circle cx="1200.77" cy="250.5" r="8" fill="#ee8428"/>
<circle cx="1290.33" cy="232.9" r="8" fill="#ee8428"/>
<circle cx="932.07" cy="408.3" r="8" fill="#e0262b"/>
<circle cx="1021.63" cy="298.7" r="8" fill="#e0262b"/>
<circle cx="1111.2" cy="234.2" r="8" fill="#e0262b"/>
<circle cx="1200.77" cy="200.8" r="8" fill="#e0262b"/>
<circle cx="1290.33" cy="184.2" r="8" fill="#e0262b"/>
<circle cx="932.07" cy="374.8" r="8" fill="#3b5bb0"/>
<circle cx="1021.63" cy="244.9" r="8" fill="#3b5bb0"/>
<circle cx="1111.2" cy="172.3" r="8" fill="#3b5bb0"/>
<circle cx="1200.77" cy="135.3" r="8" fill="#3b5bb0"/>
<circle cx="1290.33" cy="119" r="8" fill="#3b5bb0"/>
<circle cx="932.07" cy="343.5" r="8" fill="#17a34a"/>
<circle cx="1021.63" cy="197.4" r="8" fill="#17a34a"/>
<circle cx="1111.2" cy="122.8" r="8" fill="#17a34a"/>
<circle cx="1200.77" cy="92.3" r="8" fill="#17a34a"/>
<circle cx="932.07" cy="346.5" r="8" fill="#000000"/>
<circle cx="1021.63" cy="172.5" r="8" fill="#000000"/>
<circle cx="1111.2" cy="91.3" r="8" fill="#000000"/>
<circle cx="1290.33" cy="42.6" r="8" fill="#000000"/>
<text x="842.5" y="601.5" text-anchor="middle" style="font-family:'Liberation Sans',sans-serif;font-size:24.5px">0.0</text>
<text x="949.98" y="601.5" text-anchor="middle" style="font-family:'Liberation Sans',sans-serif;font-size:24.5px">0.2</text>
<text x="1057.46" y="601.5" text-anchor="middle" style="font-family:'Liberation Sans',sans-serif;font-size:24.5px">0.4</text>
<text x="1164.94" y="601.5" text-anchor="middle" style="font-family:'Liberation Sans',sans-serif;font-size:24.5px">0.6</text>
<text x="1272.42" y="601.5" text-anchor="middle" style="font-family:'Liberation Sans',sans-serif;font-size:24.5px">0.8</text>
<text x="1379.9" y="601.5" text-anchor="middle" style="font-family:'Liberation Sans',sans-serif;font-size:24.5px">1.0</text>
<text x="809.1" y="570.3" text-anchor="end" style="font-family:'Liberation Sans',sans-serif;font-size:24.5px">0.0</text>
<text x="809.1" y="448.68" text-anchor="end" style="font-family:'Liberation Sans',sans-serif;font-size:24.5px">0.5</text>
<text x="809.1" y="327.05" text-anchor="end" style="font-family:'Liberation Sans',sans-serif;font-size:24.5px">1.0</text>
<text x="809.1" y="205.43" text-anchor="end" style="font-family:'Liberation Sans',sans-serif;font-size:24.5px">1.5</text>
<text x="809.1" y="83.8" text-anchor="end" style="font-family:'Liberation Sans',sans-serif;font-size:24.5px">2.0</text>
<line x1="1227.8" y1="358.8" x2="1257.3" y2="358.8" stroke="#000000" stroke-width="4" stroke-linecap="round"/>
<text x="1274.8" y="367.7" style="font-family:'Liberation Sans',sans-serif;font-size:29.5px">50, 20</text>
<line x1="1227.8" y1="397.25" x2="1257.3" y2="397.25" stroke="#17a34a" stroke-width="4" stroke-linecap="round"/>
<text x="1274.8" y="406.15" style="font-family:'Liberation Sans',sans-serif;font-size:29.5px">50, 10</text>
<line x1="1227.8" y1="435.7" x2="1257.3" y2="435.7" stroke="#3b5bb0" stroke-width="4" stroke-linecap="round"/>
<text x="1274.8" y="444.6" style="font-family:'Liberation Sans',sans-serif;font-size:29.5px">50, 5</text>
<line x1="1227.8" y1="474.15" x2="1257.3" y2="474.15" stroke="#e0262b" stroke-width="4" stroke-linecap="round"/>
<text x="1274.8" y="483.05" style="font-family:'Liberation Sans',sans-serif;font-size:29.5px">50, 2</text>
<line x1="1227.8" y1="512.6" x2="1257.3" y2="512.6" stroke="#ee8428" stroke-width="4" stroke-linecap="round"/>
<text x="1274.8" y="521.5" style="font-family:'Liberation Sans',sans-serif;font-size:29.5px">50, 1</text>
<text x="1077.3" y="643.7" style="font-family:'Liberation Sans',sans-serif;font-size:29px"><tspan font-style="italic">k</tspan> (ΓL)</text>
<line x1="1111.4" y1="618.2" x2="1141.9" y2="618.2" stroke="#000" stroke-width="2"/>
<text transform="translate(739.8,333) rotate(-90)" style="font-family:'Liberation Sans',sans-serif;font-size:29px"><tspan font-style="italic">ω</tspan><tspan font-size="17" dy="9" dx="-1">pp</tspan><tspan dy="-9"> (eV)</tspan></text>
<text x="7.5" y="26" style="font-family:'Liberation Sans',sans-serif;font-size:33px;font-weight:bold">a</text>
<text x="727" y="26" style="font-family:'Liberation Sans',sans-serif;font-size:33px;font-weight:bold">b</text>
</svg></body></html>
